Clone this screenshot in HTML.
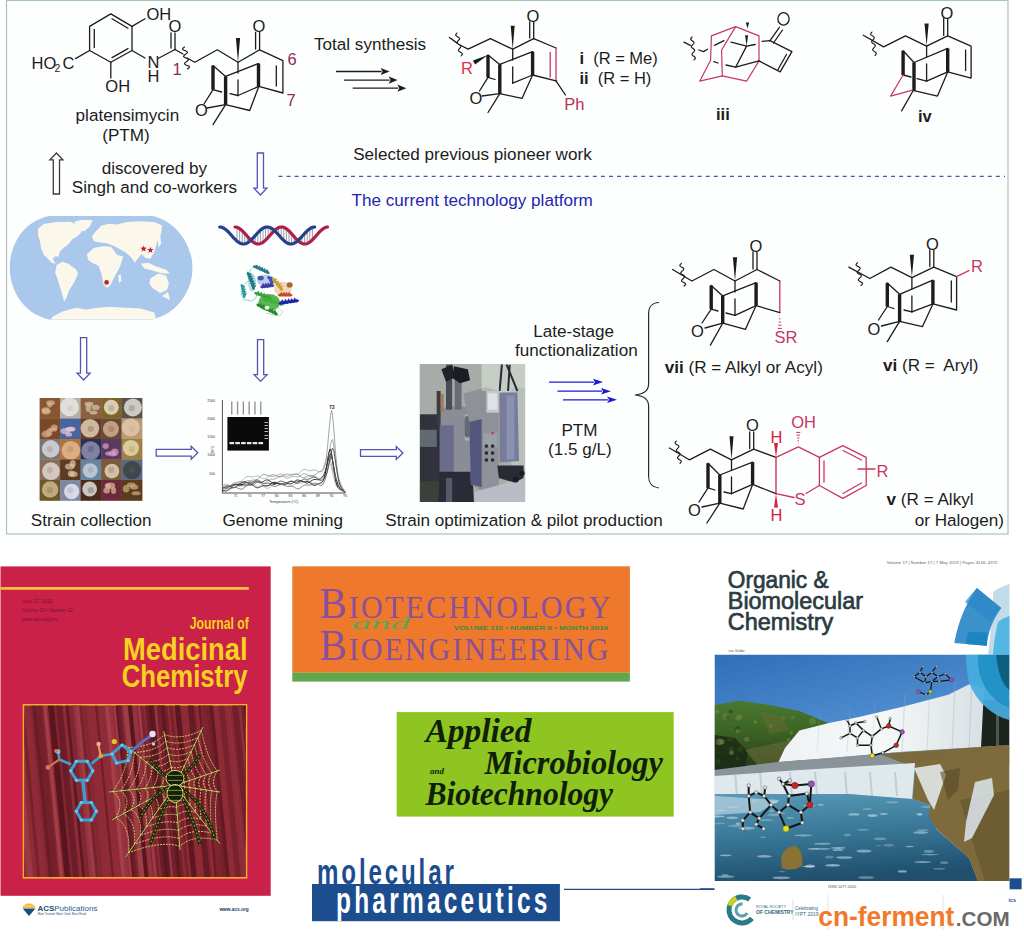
<!DOCTYPE html><html><head><meta charset="utf-8"><style>
html,body{margin:0;padding:0;background:#fff;}
body{width:1024px;height:941px;overflow:hidden;position:relative;}
svg{position:absolute;left:0;top:0;}
</style></head><body>
<svg width="1024" height="941" viewBox="0 0 1024 941">
<rect x="0" y="0" width="1024" height="941" fill="#ffffff"/>

<rect x="6.5" y="0.5" width="1001.5" height="533.5" fill="#fdfffe" stroke="#a9c4bb" stroke-width="1.2"/>
<path d="M110.8,13.9 L132.0,26.4 L132.0,50.5 L110.8,62.3 L89.6,50.5 L89.6,26.4 L110.8,13.9" fill="none" stroke="#1c1c1c" stroke-width="1.3" stroke-linejoin="round" stroke-linecap="round" />
<path d="M94.3,29.5 L94.3,47.5" fill="none" stroke="#1c1c1c" stroke-width="1.3" stroke-linejoin="round" stroke-linecap="round" />
<path d="M112.0,18.8 L128.0,28.2" fill="none" stroke="#1c1c1c" stroke-width="1.3" stroke-linejoin="round" stroke-linecap="round" />
<path d="M128.0,48.6 L112.0,57.6" fill="none" stroke="#1c1c1c" stroke-width="1.3" stroke-linejoin="round" stroke-linecap="round" />
<path d="M132.0,26.4 L145.0,18.8" fill="none" stroke="#1c1c1c" stroke-width="1.3" stroke-linejoin="round" stroke-linecap="round" />
<text x="146.5" y="20.2" font-family="'Liberation Sans', sans-serif" font-size="16.5" fill="#1c1c1c" text-anchor="start" font-weight="normal" >OH</text>
<path d="M75.5,58.6 L89.6,50.5" fill="none" stroke="#1c1c1c" stroke-width="1.3" stroke-linejoin="round" stroke-linecap="round" />
<text x="31.5" y="68.5" font-family="'Liberation Sans', sans-serif" font-size="16.5" fill="#1c1c1c" text-anchor="start" font-weight="normal" >HO</text>
<text x="54.5" y="72" font-family="'Liberation Sans', sans-serif" font-size="10.5" fill="#1c1c1c" text-anchor="start" font-weight="normal" >2</text>
<text x="62.5" y="68.5" font-family="'Liberation Sans', sans-serif" font-size="16.5" fill="#1c1c1c" text-anchor="start" font-weight="normal" >C</text>
<path d="M110.8,62.3 L110.8,78.0" fill="none" stroke="#1c1c1c" stroke-width="1.3" stroke-linejoin="round" stroke-linecap="round" />
<text x="105.3" y="92.3" font-family="'Liberation Sans', sans-serif" font-size="16.5" fill="#1c1c1c" text-anchor="start" font-weight="normal" >OH</text>
<path d="M132.0,50.5 L145.0,58.0" fill="none" stroke="#1c1c1c" stroke-width="1.3" stroke-linejoin="round" stroke-linecap="round" />
<text x="147.5" y="68" font-family="'Liberation Sans', sans-serif" font-size="16.5" fill="#1c1c1c" text-anchor="start" font-weight="normal" >N</text>
<text x="147.5" y="81.5" font-family="'Liberation Sans', sans-serif" font-size="16.5" fill="#1c1c1c" text-anchor="start" font-weight="normal" >H</text>
<path d="M158.0,58.5 L175.0,49.5" fill="none" stroke="#1c1c1c" stroke-width="1.3" stroke-linejoin="round" stroke-linecap="round" />
<path d="M175.0,49.5 L175.0,33.0" fill="none" stroke="#1c1c1c" stroke-width="1.3" stroke-linejoin="round" stroke-linecap="round" />
<path d="M171.0,48.0 L171.0,33.0" fill="none" stroke="#1c1c1c" stroke-width="1.3" stroke-linejoin="round" stroke-linecap="round" />
<text x="168.5" y="31.5" font-family="'Liberation Sans', sans-serif" font-size="16.5" fill="#1c1c1c" text-anchor="start" font-weight="normal" >O</text>
<path d="M175.0,49.5 L183.0,54.0" fill="none" stroke="#1c1c1c" stroke-width="1.3" stroke-linejoin="round" stroke-linecap="round" />
<text x="172.5" y="74.5" font-family="'Liberation Sans', sans-serif" font-size="16.5" fill="#8a2c5c" text-anchor="start" font-weight="normal" >1</text>
<path d="M184.5,47.0 L183.6,47.7 L182.9,48.3 L182.6,48.9 L182.7,49.5 L183.3,50.0 L184.3,50.4 L185.4,50.8 L186.4,51.2 L187.1,51.7 L187.4,52.2 L187.3,52.8 L186.7,53.4 L185.8,54.1 L184.9,54.8 L184.1,55.5 L183.6,56.1 L183.6,56.6 L184.1,57.1 L184.9,57.6 L186.0,58.0 L187.1,58.4 L187.9,58.9 L188.4,59.4 L188.4,59.9 L187.9,60.5 L187.1,61.2 L186.2,61.9 L185.3,62.6 L184.7,63.2 L184.6,63.8 L184.9,64.3 L185.6,64.8 L186.6,65.2 L187.7,65.6 L188.7,66.0 L189.3,66.5 L189.4,67.1 L189.1,67.7 L188.4,68.3 L187.5,69.0" fill="none" stroke="#1c1c1c" stroke-width="1.15" stroke-linejoin="round" stroke-linecap="round" />
<path d="M187.0,58.0 L194.8,62.3 L217.3,49.8 L238.0,62.3 L259.6,49.8 L282.9,60.6 L282.9,93.0 L258.8,86.4" fill="none" stroke="#1c1c1c" stroke-width="1.3" stroke-linejoin="round" stroke-linecap="round" />
<polygon points="238.0,62.3 240.1,38.0 235.9,38.0" fill="#1c1c1c"/>
<path d="M259.6,49.8 L259.6,32.5" fill="none" stroke="#1c1c1c" stroke-width="1.3" stroke-linejoin="round" stroke-linecap="round" />
<path d="M255.6,49.0 L255.6,32.5" fill="none" stroke="#1c1c1c" stroke-width="1.3" stroke-linejoin="round" stroke-linecap="round" />
<text x="252.6" y="32" font-family="'Liberation Sans', sans-serif" font-size="16.5" fill="#1c1c1c" text-anchor="start" font-weight="normal" >O</text>
<path d="M276.3,66.0 L276.3,86.0" fill="none" stroke="#1c1c1c" stroke-width="1.3" stroke-linejoin="round" stroke-linecap="round" />
<line x1="258.5" y1="63.5" x2="258.5" y2="86.5" stroke="#1c1c1c" stroke-width="3.4" stroke-linecap="butt"/>
<path d="M258.5,63.5 L225.6,76.4" fill="none" stroke="#1c1c1c" stroke-width="1.3" stroke-linejoin="round" stroke-linecap="round" />
<line x1="225.6" y1="76.4" x2="225.6" y2="104.6" stroke="#1c1c1c" stroke-width="3.4" stroke-linecap="butt"/>
<path d="M238.0,62.3 L238.0,73.0" fill="none" stroke="#1c1c1c" stroke-width="1.3" stroke-linejoin="round" stroke-linecap="round" />
<path d="M238.0,80.0 L238.0,95.5" fill="none" stroke="#1c1c1c" stroke-width="1.3" stroke-linejoin="round" stroke-linecap="round" />
<path d="M238.0,95.5 L258.8,86.4" fill="none" stroke="#1c1c1c" stroke-width="1.3" stroke-linejoin="round" stroke-linecap="round" />
<line x1="213.0" y1="65.6" x2="213.0" y2="89.7" stroke="#1c1c1c" stroke-width="3.4" stroke-linecap="butt"/>
<path d="M213.0,65.6 L225.6,76.4" fill="none" stroke="#1c1c1c" stroke-width="1.3" stroke-linejoin="round" stroke-linecap="round" />
<path d="M213.0,89.7 L221.5,92.0" fill="none" stroke="#1c1c1c" stroke-width="1.3" stroke-linejoin="round" stroke-linecap="round" />
<path d="M230.0,93.6 L238.0,95.5" fill="none" stroke="#1c1c1c" stroke-width="1.3" stroke-linejoin="round" stroke-linecap="round" />
<path d="M213.0,89.7 L204.0,104.0" fill="none" stroke="#1c1c1c" stroke-width="1.3" stroke-linejoin="round" stroke-linecap="round" />
<text x="195" y="116" font-family="'Liberation Sans', sans-serif" font-size="16.5" fill="#1c1c1c" text-anchor="start" font-weight="normal" >O</text>
<path d="M207.0,108.0 L225.6,104.6 L249.7,110.5 L258.8,86.4" fill="none" stroke="#1c1c1c" stroke-width="1.3" stroke-linejoin="round" stroke-linecap="round" />
<path d="M225.6,104.6 L213.0,124.6" fill="none" stroke="#1c1c1c" stroke-width="1.3" stroke-linejoin="round" stroke-linecap="round" />
<text x="287.5" y="64.5" font-family="'Liberation Sans', sans-serif" font-size="16.5" fill="#8a2c5c" text-anchor="start" font-weight="normal" >6</text>
<text x="286.5" y="106" font-family="'Liberation Sans', sans-serif" font-size="16.5" fill="#8a2c5c" text-anchor="start" font-weight="normal" >7</text>
<text x="75.6" y="121.3" font-family="'Liberation Sans', sans-serif" font-size="17.1" fill="#1c1c1c" text-anchor="start" font-weight="normal" >platensimycin</text>
<text x="102.2" y="140.7" font-family="'Liberation Sans', sans-serif" font-size="17.1" fill="#1c1c1c" text-anchor="start" font-weight="normal" >(PTM)</text>
<text x="314" y="49.5" font-family="'Liberation Sans', sans-serif" font-size="17.1" fill="#1c1c1c" text-anchor="start" font-weight="normal" >Total synthesis</text>
<line x1="336" y1="71.5" x2="381.6" y2="71.5" stroke="#1c1c1c" stroke-width="1.3"/>
<polygon points="389.6,71.5 380.6,67.9 382.6,71.5 380.6,75.1" fill="#1c1c1c"/>
<line x1="344" y1="80.1" x2="389.6" y2="80.1" stroke="#1c1c1c" stroke-width="1.3"/>
<polygon points="397.6,80.1 388.6,76.5 390.6,80.1 388.6,83.69999999999999" fill="#1c1c1c"/>
<line x1="352.7" y1="88.2" x2="398.3" y2="88.2" stroke="#1c1c1c" stroke-width="1.3"/>
<polygon points="406.3,88.2 397.3,84.60000000000001 399.3,88.2 397.3,91.8" fill="#1c1c1c"/>
<path d="M449.4,37.5 L457.6,43.4" fill="none" stroke="#1c1c1c" stroke-width="1.3" stroke-linejoin="round" stroke-linecap="round" />
<path d="M457.0,33.0 L456.4,33.7 L455.9,34.4 L455.7,35.0 L455.9,35.6 L456.4,36.1 L457.1,36.5 L457.9,37.0 L458.7,37.4 L459.3,37.9 L459.6,38.5 L459.5,39.1 L459.1,39.7 L458.5,40.4 L457.9,41.1 L457.4,41.8 L457.1,42.5 L457.1,43.0 L457.5,43.6 L458.2,44.0 L459.0,44.5 L459.8,45.0 L460.5,45.4 L460.9,46.0 L460.9,46.5 L460.6,47.2 L460.1,47.9 L459.5,48.6 L458.9,49.3 L458.5,49.9 L458.4,50.5 L458.7,51.1 L459.3,51.6 L460.1,52.0 L460.9,52.5 L461.6,52.9 L462.1,53.4 L462.3,54.0 L462.1,54.6 L461.6,55.3 L461.0,56.0" fill="none" stroke="#1c1c1c" stroke-width="1.15" stroke-linejoin="round" stroke-linecap="round" />
<path d="M460.0,45.0 L468.1,49.2 L490.4,38.7 L512.7,49.2 L533.7,38.7 L556.0,48.0" fill="none" stroke="#1c1c1c" stroke-width="1.3" stroke-linejoin="round" stroke-linecap="round" />
<polygon points="512.7,49.2 514.7,25.8 510.7,25.8" fill="#1c1c1c"/>
<path d="M533.7,38.7 L533.7,22.0" fill="none" stroke="#1c1c1c" stroke-width="1.3" stroke-linejoin="round" stroke-linecap="round" />
<path d="M529.7,38.0 L529.7,22.0" fill="none" stroke="#1c1c1c" stroke-width="1.3" stroke-linejoin="round" stroke-linecap="round" />
<text x="526.5" y="21.5" font-family="'Liberation Sans', sans-serif" font-size="16.5" fill="#1c1c1c" text-anchor="start" font-weight="normal" >O</text>
<path d="M556.0,48.0 L556.0,80.9" fill="none" stroke="#c8365e" stroke-width="1.3" stroke-linejoin="round" stroke-linecap="round" />
<path d="M550.2,52.5 L550.2,77.0" fill="none" stroke="#c8365e" stroke-width="1.3" stroke-linejoin="round" stroke-linecap="round" />
<path d="M556.0,80.9 L532.6,75.0" fill="none" stroke="#1c1c1c" stroke-width="1.3" stroke-linejoin="round" stroke-linecap="round" />
<line x1="532.6" y1="51.6" x2="532.6" y2="75.0" stroke="#1c1c1c" stroke-width="3.4" stroke-linecap="butt"/>
<path d="M532.6,51.6 L499.8,64.4" fill="none" stroke="#1c1c1c" stroke-width="1.3" stroke-linejoin="round" stroke-linecap="round" />
<line x1="499.8" y1="64.4" x2="499.8" y2="93.7" stroke="#1c1c1c" stroke-width="3.4" stroke-linecap="butt"/>
<path d="M512.7,49.2 L512.7,60.0" fill="none" stroke="#1c1c1c" stroke-width="1.3" stroke-linejoin="round" stroke-linecap="round" />
<path d="M512.7,67.0 L512.7,83.2" fill="none" stroke="#1c1c1c" stroke-width="1.3" stroke-linejoin="round" stroke-linecap="round" />
<path d="M512.7,83.2 L532.6,75.0" fill="none" stroke="#1c1c1c" stroke-width="1.3" stroke-linejoin="round" stroke-linecap="round" />
<line x1="488.0" y1="55.0" x2="488.0" y2="77.3" stroke="#1c1c1c" stroke-width="3.4" stroke-linecap="butt"/>
<path d="M488.0,55.0 L499.8,64.4" fill="none" stroke="#1c1c1c" stroke-width="1.3" stroke-linejoin="round" stroke-linecap="round" />
<polygon points="488.0,55.0 472.9,60.5 475.1,64.5" fill="#1c1c1c"/>
<text x="461" y="74" font-family="'Liberation Sans', sans-serif" font-size="16.5" fill="#e0304a" text-anchor="start" font-weight="normal" >R</text>
<path d="M488.0,77.3 L495.0,79.5" fill="none" stroke="#1c1c1c" stroke-width="1.3" stroke-linejoin="round" stroke-linecap="round" />
<path d="M488.0,77.3 L479.5,91.0" fill="none" stroke="#1c1c1c" stroke-width="1.3" stroke-linejoin="round" stroke-linecap="round" />
<text x="469.5" y="104" font-family="'Liberation Sans', sans-serif" font-size="16.5" fill="#1c1c1c" text-anchor="start" font-weight="normal" >O</text>
<path d="M482.0,96.0 L499.8,93.7 L522.0,98.4 L532.6,75.0" fill="none" stroke="#1c1c1c" stroke-width="1.3" stroke-linejoin="round" stroke-linecap="round" />
<path d="M499.8,93.7 L488.0,112.5" fill="none" stroke="#1c1c1c" stroke-width="1.3" stroke-linejoin="round" stroke-linecap="round" />
<path d="M556.0,80.9 L565.4,95.0" fill="none" stroke="#1c1c1c" stroke-width="1.3" stroke-linejoin="round" stroke-linecap="round" />
<text x="564.2" y="110" font-family="'Liberation Sans', sans-serif" font-size="16.5" fill="#b83058" text-anchor="start" font-weight="normal" >Ph</text>
<text x="579.4" y="64.4" font-family="'Liberation Sans', sans-serif" font-size="16.5" fill="#1c1c1c" text-anchor="start" font-weight="normal" xml:space="preserve"><tspan font-weight="bold">i</tspan>  (R = Me)</text>
<text x="579.4" y="84.4" font-family="'Liberation Sans', sans-serif" font-size="16.5" fill="#1c1c1c" text-anchor="start" font-weight="normal" xml:space="preserve"><tspan font-weight="bold">ii</tspan>  (R = H)</text>
<path d="M711.4,35.9 L735.6,26.6 L759.0,35.9 L759.0,60.9 L746.6,81.2 L722.3,75.8 L699.7,81.2 L710.6,60.2 L711.4,35.9" fill="none" stroke="#c8365e" stroke-width="1.2" stroke-linejoin="round" stroke-linecap="round" />
<path d="M735.6,26.6 L721.6,50.0 L722.3,75.8" fill="none" stroke="#c8365e" stroke-width="1.2" stroke-linejoin="round" stroke-linecap="round" />
<path d="M684.0,42.2 L690.3,45.3" fill="none" stroke="#1c1c1c" stroke-width="1.3" stroke-linejoin="round" stroke-linecap="round" />
<path d="M692.0,37.0 L691.4,37.6 L690.9,38.3 L690.7,38.9 L690.8,39.4 L691.2,40.0 L691.8,40.5 L692.6,41.0 L693.3,41.5 L693.8,42.1 L694.0,42.6 L693.9,43.2 L693.5,43.8 L692.9,44.5 L692.2,45.1 L691.7,45.7 L691.4,46.3 L691.4,46.9 L691.7,47.5 L692.3,48.0 L693.0,48.5 L693.7,49.0 L694.3,49.5 L694.6,50.1 L694.6,50.7 L694.3,51.3 L693.8,51.9 L693.1,52.5 L692.5,53.2 L692.1,53.8 L692.0,54.4 L692.2,54.9 L692.7,55.5 L693.4,56.0 L694.2,56.5 L694.8,57.0 L695.2,57.6 L695.3,58.1 L695.1,58.7 L694.6,59.4 L694.0,60.0" fill="none" stroke="#1c1c1c" stroke-width="1.15" stroke-linejoin="round" stroke-linecap="round" />
<path d="M698.9,50.0 L703.6,51.6 L707.5,49.2" fill="none" stroke="#1c1c1c" stroke-width="1.3" stroke-linejoin="round" stroke-linecap="round" />
<path d="M714.5,45.3 L723.9,40.6" fill="none" stroke="#1c1c1c" stroke-width="1.3" stroke-linejoin="round" stroke-linecap="round" />
<path d="M731.0,42.2 L746.6,46.1 L755.2,44.5" fill="none" stroke="#1c1c1c" stroke-width="1.3" stroke-linejoin="round" stroke-linecap="round" />
<polygon points="746.6,46.1 748.1,35.2 745.1,35.2" fill="#1c1c1c"/>
<polygon points="747.5,28.5 749.2,22.5 745.8,22.5" fill="#1c1c1c"/>
<path d="M746.6,46.1 L735.6,67.2" fill="none" stroke="#1c1c1c" stroke-width="1.3" stroke-linejoin="round" stroke-linecap="round" />
<path d="M713.8,61.7 L718.0,63.0" fill="none" stroke="#1c1c1c" stroke-width="1.3" stroke-linejoin="round" stroke-linecap="round" />
<path d="M726.0,65.0 L735.6,67.2 L759.0,60.9" fill="none" stroke="#1c1c1c" stroke-width="1.3" stroke-linejoin="round" stroke-linecap="round" />
<path d="M762.2,41.4 L770.0,40.6 L791.9,51.6 L780.2,71.9 L759.0,60.9" fill="none" stroke="#1c1c1c" stroke-width="1.3" stroke-linejoin="round" stroke-linecap="round" />
<path d="M770.0,40.6 L779.4,27.3" fill="none" stroke="#1c1c1c" stroke-width="1.3" stroke-linejoin="round" stroke-linecap="round" />
<path d="M773.5,43.0 L782.5,30.0" fill="none" stroke="#1c1c1c" stroke-width="1.3" stroke-linejoin="round" stroke-linecap="round" />
<ellipse cx="783.5" cy="18.9" rx="5.6" ry="6.2" fill="none" stroke="#1c1c1c" stroke-width="1.3"/>
<path d="M786.5,54.5 L778.0,69.5" fill="none" stroke="#1c1c1c" stroke-width="1.3" stroke-linejoin="round" stroke-linecap="round" />
<text x="716" y="119.5" font-family="'Liberation Sans', sans-serif" font-size="16.5" fill="#1c1c1c" text-anchor="start" font-weight="bold" >iii</text>
<path d="M863.3,35.2 L883.6,46.9 L905.5,35.9 L926.6,46.1 L947.7,35.9 L971.1,46.1 L971.1,78.1 L947.7,71.9" fill="none" stroke="#1c1c1c" stroke-width="1.3" stroke-linejoin="round" stroke-linecap="round" />
<path d="M872.0,32.0 L871.4,32.7 L870.9,33.3 L870.7,34.0 L870.8,34.5 L871.3,35.1 L872.0,35.6 L872.8,36.1 L873.5,36.6 L874.1,37.1 L874.3,37.7 L874.2,38.3 L873.8,38.9 L873.2,39.6 L872.6,40.3 L872.0,41.0 L871.7,41.6 L871.7,42.2 L872.1,42.7 L872.7,43.3 L873.5,43.8 L874.3,44.2 L874.9,44.8 L875.3,45.3 L875.3,45.9 L875.0,46.5 L874.4,47.2 L873.8,47.9 L873.2,48.6 L872.8,49.2 L872.7,49.8 L872.9,50.4 L873.5,50.9 L874.2,51.4 L875.0,51.9 L875.7,52.4 L876.2,53.0 L876.3,53.5 L876.1,54.2 L875.6,54.8 L875.0,55.5" fill="none" stroke="#1c1c1c" stroke-width="1.15" stroke-linejoin="round" stroke-linecap="round" />
<polygon points="926.6,46.1 928.7,23.4 924.5,23.4" fill="#1c1c1c"/>
<path d="M947.7,35.9 L947.7,18.5" fill="none" stroke="#1c1c1c" stroke-width="1.3" stroke-linejoin="round" stroke-linecap="round" />
<path d="M943.7,35.5 L943.7,18.5" fill="none" stroke="#1c1c1c" stroke-width="1.3" stroke-linejoin="round" stroke-linecap="round" />
<text x="940.5" y="18.5" font-family="'Liberation Sans', sans-serif" font-size="16.5" fill="#1c1c1c" text-anchor="start" font-weight="normal" >O</text>
<path d="M965.6,50.0 L965.6,70.5" fill="none" stroke="#1c1c1c" stroke-width="1.3" stroke-linejoin="round" stroke-linecap="round" />
<line x1="947.7" y1="48.4" x2="947.7" y2="71.9" stroke="#1c1c1c" stroke-width="3.4" stroke-linecap="butt"/>
<path d="M947.7,48.4 L914.0,62.5" fill="none" stroke="#1c1c1c" stroke-width="1.3" stroke-linejoin="round" stroke-linecap="round" />
<line x1="914.0" y1="62.5" x2="914.0" y2="90.6" stroke="#1c1c1c" stroke-width="3.4" stroke-linecap="butt"/>
<path d="M926.6,46.1 L926.6,57.0" fill="none" stroke="#1c1c1c" stroke-width="1.3" stroke-linejoin="round" stroke-linecap="round" />
<path d="M926.6,64.0 L926.6,81.2" fill="none" stroke="#1c1c1c" stroke-width="1.3" stroke-linejoin="round" stroke-linecap="round" />
<path d="M926.6,81.2 L947.7,71.9" fill="none" stroke="#1c1c1c" stroke-width="1.3" stroke-linejoin="round" stroke-linecap="round" />
<line x1="903.1" y1="50.8" x2="903.1" y2="75.0" stroke="#1c1c1c" stroke-width="3.4" stroke-linecap="butt"/>
<path d="M903.1,50.8 L914.0,62.5" fill="none" stroke="#1c1c1c" stroke-width="1.3" stroke-linejoin="round" stroke-linecap="round" />
<path d="M903.1,75.0 L911.0,77.0" fill="none" stroke="#1c1c1c" stroke-width="1.3" stroke-linejoin="round" stroke-linecap="round" />
<path d="M917.0,78.6 L926.6,81.2" fill="none" stroke="#1c1c1c" stroke-width="1.3" stroke-linejoin="round" stroke-linecap="round" />
<path d="M903.1,75.0 L890.6,96.1 L913.3,89.8" fill="none" stroke="#c8365e" stroke-width="1.2" stroke-linejoin="round" stroke-linecap="round" />
<path d="M914.0,90.6 L937.5,96.1 L947.7,71.9" fill="none" stroke="#1c1c1c" stroke-width="1.3" stroke-linejoin="round" stroke-linecap="round" />
<path d="M913.5,90.0 L901.6,110.9" fill="none" stroke="#1c1c1c" stroke-width="1.3" stroke-linejoin="round" stroke-linecap="round" />
<text x="918" y="121.9" font-family="'Liberation Sans', sans-serif" font-size="16.5" fill="#1c1c1c" text-anchor="start" font-weight="bold" >iv</text>
<text x="353.2" y="159.8" font-family="'Liberation Sans', sans-serif" font-size="17.1" fill="#1c1c1c" text-anchor="start" font-weight="normal" >Selected previous pioneer work</text>
<line x1="278.5" y1="176.4" x2="1005" y2="176.4" stroke="#5050a0" stroke-width="1.2" stroke-dasharray="4 4.06"/>
<text x="351.5" y="205.7" font-family="'Liberation Sans', sans-serif" font-size="17.1" fill="#2424b4" text-anchor="start" font-weight="normal" >The current technology platform</text>
<text x="101.7" y="173.7" font-family="'Liberation Sans', sans-serif" font-size="17.1" fill="#1c1c1c" text-anchor="start" font-weight="normal" >discovered by</text>
<text x="71.8" y="193.3" font-family="'Liberation Sans', sans-serif" font-size="17.1" fill="#1c1c1c" text-anchor="start" font-weight="normal" >Singh and co-workers</text>
<path d="M53.3,194.0 L53.3,159.8 L49.9,159.8 L56.4,153.0 L62.9,159.8 L59.5,159.8 L59.5,194.0 Z" fill="#fff" stroke="#3a3a3a" stroke-width="1.3" stroke-linejoin="miter"/>
<path d="M257.3,153.0 L257.3,188.2 L253.9,188.2 L260.4,195.0 L266.9,188.2 L263.5,188.2 L263.5,153.0 Z" fill="#fff" stroke="#5552b0" stroke-width="1.3" stroke-linejoin="miter"/>
<defs><clipPath id="mapclip"><path d="M48.8,215.9 L152.3,215.9 C180,222 193,250 192.4,267.6 C193,287 180,313 152.3,319.4 L48.8,319.4 C21,313 9.5,287 9.8,267.6 C9.5,248 21,222 48.8,215.9 Z"/></clipPath></defs>
<path d="M48.8,215.9 L152.3,215.9 C180,222 193,250 192.4,267.6 C193,287 180,313 152.3,319.4 L48.8,319.4 C21,313 9.5,287 9.8,267.6 C9.5,248 21,222 48.8,215.9 Z" fill="#a9c8ec"/>
<g clip-path="url(#mapclip)" fill="#fbf7ea">
<polygon points="38.1,228.6 43.9,224.1 56.6,222.1 70.3,221.7 75.2,223.7 78.1,228.6 82.0,231.5 77.1,236.4 72.3,239.3 68.4,244.2 63.5,248.1 59.6,252.0 58.6,256.9 55.7,255.9 52.7,258.8 55.7,263.7 51.8,262.7 47.9,258.8 43.9,254.9 41.0,248.1 40.0,241.2 38.1,235.4"/>
<polygon points="74.2,221.7 82.0,219.8 92.8,220.2 89.8,226.6 84.0,231.5 78.1,229.5"/>
<polygon points="56.6,265.1 62.5,261.8 68.4,263.7 76.2,269.6 78.1,273.5 74.2,282.3 69.3,290.1 66.4,297.9 64.1,301.4 62.1,294.0 58.6,282.3 55.1,272.5"/>
<polygon points="91.8,236.4 95.7,231.5 101.6,225.6 109.4,223.7 117.2,224.6 127.0,222.1 140.6,221.3 154.3,222.1 162.1,225.6 161.1,233.4 158.2,239.3 156.2,245.2 154.3,252.0 150.4,258.8 145.5,257.9 141.6,253.9 137.7,258.8 134.8,262.7 130.9,256.9 125.0,252.0 119.1,249.1 114.3,246.1 106.4,243.2 98.6,242.2 93.8,241.2"/>
<polygon points="86.9,253.9 93.8,248.1 103.5,246.1 111.3,247.1 117.2,254.9 123.4,256.5 120.1,266.6 115.2,275.4 110.4,285.2 107.0,288.1 103.5,284.2 101.6,274.5 98.6,265.7 91.8,262.7 87.9,259.8"/>
<polygon points="118.2,275.4 120.7,274.5 121.5,280.3 119.1,283.2"/>
<polygon points="140.6,263.7 148.4,262.7 156.2,266.6 166.0,269.6 169.9,273.5 162.1,273.5 152.3,270.5 144.5,268.6"/>
<polygon points="157.2,235.4 160.2,234.4 161.1,243.2 158.6,248.1"/>
<polygon points="150.4,278.4 158.2,273.5 166.0,275.4 168.9,283.2 167.0,290.1 160.2,293.0 152.3,288.1 149.4,283.2"/>
<polygon points="162,296 168,292 170,300"/>
<polygon points="52.7,316.4 62.5,311.6 76.2,307.7 85.9,309.6 97.7,307.7 109.4,306.7 125.0,307.7 140.6,308.6 154.3,312.5 156.2,319.4 50.8,319.4"/>
</g>
<circle cx="106.6" cy="282.4" r="2.3" fill="#c0202a"/>
<polygon points="143.6,245.4 144.4,247.6 146.8,247.7 145.0,249.2 145.6,251.6 143.6,250.2 141.6,251.6 142.2,249.2 140.4,247.7 142.8,247.6" fill="#b8202a"/>
<polygon points="150.4,246.8 151.2,249.0 153.6,249.1 151.8,250.6 152.4,253.0 150.4,251.6 148.4,253.0 149.0,250.6 147.2,249.1 149.6,249.0" fill="#b8202a"/>
<line x1="237.0" y1="241.1" x2="237.0" y2="227.3" stroke="#707080" stroke-width="0.7"/>
<line x1="239.6" y1="242.9" x2="239.6" y2="228.6" stroke="#707080" stroke-width="0.7"/>
<line x1="242.2" y1="243.9" x2="242.2" y2="230.7" stroke="#707080" stroke-width="0.7"/>
<line x1="244.8" y1="243.9" x2="244.8" y2="233.4" stroke="#707080" stroke-width="0.7"/>
<line x1="247.4" y1="242.9" x2="247.4" y2="236.4" stroke="#707080" stroke-width="0.7"/>
<line x1="250.0" y1="241.0" x2="250.0" y2="239.2" stroke="#707080" stroke-width="0.7"/>
<line x1="252.6" y1="238.5" x2="252.6" y2="241.6" stroke="#707080" stroke-width="0.7"/>
<line x1="255.2" y1="235.6" x2="255.2" y2="243.3" stroke="#707080" stroke-width="0.7"/>
<line x1="257.8" y1="232.8" x2="257.8" y2="244.0" stroke="#707080" stroke-width="0.7"/>
<line x1="260.4" y1="230.2" x2="260.4" y2="243.6" stroke="#707080" stroke-width="0.7"/>
<line x1="263.0" y1="228.3" x2="263.0" y2="242.3" stroke="#707080" stroke-width="0.7"/>
<line x1="265.6" y1="227.2" x2="265.6" y2="240.1" stroke="#707080" stroke-width="0.7"/>
<line x1="268.2" y1="227.1" x2="268.2" y2="237.4" stroke="#707080" stroke-width="0.7"/>
<line x1="270.8" y1="227.9" x2="270.8" y2="234.4" stroke="#707080" stroke-width="0.7"/>
<line x1="273.4" y1="229.7" x2="273.4" y2="231.6" stroke="#707080" stroke-width="0.7"/>
<line x1="276.0" y1="232.1" x2="276.0" y2="229.2" stroke="#707080" stroke-width="0.7"/>
<line x1="278.6" y1="235.0" x2="278.6" y2="227.6" stroke="#707080" stroke-width="0.7"/>
<line x1="281.2" y1="237.9" x2="281.2" y2="227.0" stroke="#707080" stroke-width="0.7"/>
<line x1="283.8" y1="240.5" x2="283.8" y2="227.4" stroke="#707080" stroke-width="0.7"/>
<line x1="286.4" y1="242.5" x2="286.4" y2="228.8" stroke="#707080" stroke-width="0.7"/>
<line x1="289.0" y1="243.7" x2="289.0" y2="231.0" stroke="#707080" stroke-width="0.7"/>
<line x1="291.6" y1="244.0" x2="291.6" y2="233.8" stroke="#707080" stroke-width="0.7"/>
<line x1="294.2" y1="243.2" x2="294.2" y2="236.7" stroke="#707080" stroke-width="0.7"/>
<line x1="296.8" y1="241.6" x2="296.8" y2="239.5" stroke="#707080" stroke-width="0.7"/>
<line x1="299.4" y1="239.2" x2="299.4" y2="241.9" stroke="#707080" stroke-width="0.7"/>
<line x1="302.0" y1="236.4" x2="302.0" y2="243.4" stroke="#707080" stroke-width="0.7"/>
<line x1="304.6" y1="233.5" x2="304.6" y2="244.0" stroke="#707080" stroke-width="0.7"/>
<line x1="307.2" y1="230.9" x2="307.2" y2="243.5" stroke="#707080" stroke-width="0.7"/>
<line x1="309.8" y1="228.7" x2="309.8" y2="242.1" stroke="#707080" stroke-width="0.7"/>
<line x1="312.4" y1="227.4" x2="312.4" y2="239.8" stroke="#707080" stroke-width="0.7"/>
<path d="M235.0,227.0 L235.8,227.0 L236.5,227.2 L237.3,227.4 L238.1,227.7 L238.9,228.1 L239.6,228.6 L240.4,229.2 L241.2,229.8 L241.9,230.5 L242.7,231.2 L243.5,232.0 L244.2,232.8 L245.0,233.7 L245.8,234.5 L246.6,235.4 L247.3,236.3 L248.1,237.2 L248.9,238.0 L249.6,238.9 L250.4,239.7 L251.2,240.4 L252.0,241.1 L252.7,241.7 L253.5,242.3 L254.3,242.8 L255.0,243.2 L255.8,243.5 L256.6,243.8 L257.4,243.9 L258.1,244.0 L258.9,244.0 L259.7,243.8 L260.4,243.6 L261.2,243.3 L262.0,242.9 L262.8,242.5 L263.5,241.9 L264.3,241.3 L265.1,240.6 L265.8,239.9 L266.6,239.1 L267.4,238.3 L268.1,237.5 L268.9,236.6 L269.7,235.7 L270.5,234.8 L271.2,234.0 L272.0,233.1 L272.8,232.3 L273.5,231.5 L274.3,230.7 L275.1,230.0 L275.9,229.4 L276.6,228.8 L277.4,228.3 L278.2,227.8 L278.9,227.5 L279.7,227.2 L280.5,227.1 L281.2,227.0 L282.0,227.0 L282.8,227.1 L283.6,227.3 L284.3,227.6 L285.1,228.0 L285.9,228.4 L286.6,229.0 L287.4,229.6 L288.2,230.2 L289.0,231.0 L289.7,231.7 L290.5,232.5 L291.3,233.4 L292.0,234.3 L292.8,235.1 L293.6,236.0 L294.4,236.9 L295.1,237.8 L295.9,238.6 L296.7,239.4 L297.4,240.2 L298.2,240.9 L299.0,241.5 L299.8,242.1 L300.5,242.6 L301.3,243.1 L302.1,243.4 L302.8,243.7 L303.6,243.9 L304.4,244.0 L305.1,244.0 L305.9,243.9 L306.7,243.7 L307.5,243.4 L308.2,243.1 L309.0,242.6 L309.8,242.1 L310.5,241.5 L311.3,240.9 L312.1,240.2 L312.9,239.4 L313.6,238.6 L314.4,237.7 L315.2,236.9 L315.9,236.0 L316.7,235.1 L317.5,234.2 L318.2,233.4 L319.0,232.5 L319.8,231.7 L320.6,230.9 L321.3,230.2 L322.1,229.6 L322.9,229.0 L323.6,228.4 L324.4,228.0 L325.2,227.6 L326.0,227.3 L326.7,227.1 L327.5,227.0" fill="none" stroke="#b01e4c" stroke-width="3.2" stroke-linejoin="round" stroke-linecap="round" />
<path d="M219.7,227.0 L220.5,227.0 L221.3,227.2 L222.1,227.4 L222.9,227.7 L223.7,228.1 L224.4,228.6 L225.2,229.2 L226.0,229.8 L226.8,230.5 L227.6,231.2 L228.4,232.0 L229.2,232.9 L230.0,233.7 L230.8,234.6 L231.6,235.5 L232.4,236.4 L233.1,237.3 L233.9,238.1 L234.7,238.9 L235.5,239.7 L236.3,240.5 L237.1,241.2 L237.9,241.8 L238.7,242.4 L239.5,242.8 L240.3,243.3 L241.1,243.6 L241.8,243.8 L242.6,244.0 L243.4,244.0 L244.2,244.0 L245.0,243.8 L245.8,243.6 L246.6,243.3 L247.4,242.9 L248.2,242.4 L249.0,241.8 L249.8,241.2 L250.5,240.5 L251.3,239.8 L252.1,239.0 L252.9,238.2 L253.7,237.3 L254.5,236.4 L255.3,235.5 L256.1,234.7 L256.9,233.8 L257.7,232.9 L258.5,232.1 L259.2,231.3 L260.0,230.5 L260.8,229.8 L261.6,229.2 L262.4,228.7 L263.2,228.2 L264.0,227.8 L264.8,227.4 L265.6,227.2 L266.4,227.1 L267.1,227.0 L267.9,227.0 L268.7,227.2 L269.5,227.4 L270.3,227.7 L271.1,228.1 L271.9,228.6 L272.7,229.1 L273.5,229.8 L274.3,230.5 L275.1,231.2 L275.8,232.0 L276.6,232.8 L277.4,233.7 L278.2,234.5 L279.0,235.4 L279.8,236.3 L280.6,237.2 L281.4,238.1 L282.2,238.9 L283.0,239.7 L283.8,240.4 L284.5,241.1 L285.3,241.8 L286.1,242.3 L286.9,242.8 L287.7,243.2 L288.5,243.6 L289.3,243.8 L290.1,243.9 L290.9,244.0 L291.7,244.0 L292.5,243.8 L293.2,243.6 L294.0,243.3 L294.8,242.9 L295.6,242.4 L296.4,241.9 L297.2,241.3 L298.0,240.6 L298.8,239.8 L299.6,239.0 L300.4,238.2 L301.2,237.4 L301.9,236.5 L302.7,235.6 L303.5,234.7 L304.3,233.8 L305.1,233.0 L305.9,232.1 L306.7,231.3 L307.5,230.6 L308.3,229.9 L309.1,229.3 L309.9,228.7 L310.6,228.2 L311.4,227.8 L312.2,227.5 L313.0,227.2 L313.8,227.1 L314.6,227.0" fill="none" stroke="#26408a" stroke-width="3.2" stroke-linejoin="round" stroke-linecap="round" />
<defs><filter id="soft2" x="-10%" y="-10%" width="120%" height="120%"><feGaussianBlur stdDeviation="0.45"/></filter></defs>
<g filter="url(#soft2)">
<ellipse cx="252.1" cy="282.6" rx="4" ry="9" fill="#6ab8b8" opacity="0.45"/>
<ellipse cx="265.8" cy="280.5" rx="9" ry="6" fill="#6a7ad0" opacity="0.4"/>
<ellipse cx="282.8" cy="288.7" rx="9" ry="7" fill="#d89850" opacity="0.4"/>
<polyline points="254.1,266.2 250.0,270.3 248.7,280.5 243.2,286.0 241.2,294.2 243.9,299.6 251.4,301.0 255.5,298.3 257.6,292.8" fill="none" stroke="#8fd0d0" stroke-width="1"/>
<polyline points="263.7,298.3 270.5,301.0 282.8,311.9 279.4,316.0 265.8,313.3" fill="none" stroke="#b0e0b0" stroke-width="1"/>
<path d="M248.7,272.3 Q247.1,274.2 249.5,274.6 Q247.9,276.6 250.4,277.0 Q248.8,278.9 251.3,279.3 Q249.7,281.3 252.2,281.7 Q250.6,283.6 253.1,284.0 Q251.4,286.0 253.9,286.4 Q252.3,288.3 254.8,288.7 " fill="none" stroke="#237a8a" stroke-width="2.8"/>
<path d="M254.1,265.5 Q254.6,267.7 256.6,266.6 Q257.2,268.8 259.2,267.7 Q259.7,270.0 261.7,268.9 Q262.2,271.1 264.2,270.0 Q264.7,272.2 266.7,271.2 Q267.2,273.4 269.2,272.3 " fill="none" stroke="#2a7a8a" stroke-width="2.8"/>
<path d="M242.5,284.6 Q241.0,286.2 243.1,287.1 Q241.6,288.7 243.6,289.5 Q242.1,291.1 244.2,292.0 Q242.7,293.6 244.7,294.4 Q243.2,296.1 245.3,296.9 " fill="none" stroke="#2a9a9a" stroke-width="2.8"/>
<ellipse cx="260.6" cy="278.1" rx="3.2" ry="2.4" fill="#3a5ab0"/>
<path d="M269.2,276.4 Q268.0,278.7 270.5,278.5 Q269.4,280.7 271.9,280.5 Q270.8,282.8 273.3,282.6 " fill="none" stroke="#3a4ac0" stroke-width="2.8"/>
<path d="M261.0,286.0 Q262.5,288.2 263.4,285.7 Q264.9,287.9 265.9,285.4 Q267.4,287.7 268.4,285.2 Q269.9,287.4 270.8,284.9 Q272.3,287.1 273.3,284.6 " fill="none" stroke="#3a3aa8" stroke-width="2.8"/>
<path d="M273.3,277.8 Q272.4,280.5 275.2,280.1 Q274.3,282.8 277.1,282.4 Q276.2,285.1 279.0,284.7 Q278.1,287.4 280.9,287.1 Q280.0,289.8 282.8,289.4 " fill="none" stroke="#c8a030" stroke-width="2.8"/>
<ellipse cx="289.7" cy="284.9" rx="3" ry="2.6" fill="#a06a30"/>
<path d="M278.7,294.2 Q280.0,296.2 281.3,294.2 Q282.6,296.2 283.9,294.2 Q285.2,296.2 286.5,294.2 Q287.8,296.2 289.1,294.2 Q290.4,296.2 291.7,294.2 " fill="none" stroke="#c84a28" stroke-width="2.8"/>
<ellipse cx="269.2" cy="302.4" rx="11" ry="8.5" fill="#46b040" opacity="0.9"/>
<path d="M255.5,292.1 Q256.0,294.9 258.2,293.2 Q258.8,295.9 261.0,294.2 Q261.5,296.9 263.7,295.2 Q264.2,298.0 266.4,296.2 Q267.0,299.0 269.2,297.3 Q269.7,300.0 271.9,298.3 " fill="none" stroke="#3aa040" stroke-width="2.8"/>
<path d="M257.6,303.7 Q257.9,306.6 260.4,305.1 Q260.8,308.0 263.2,306.5 Q263.6,309.3 266.1,307.8 Q266.4,310.7 268.9,309.2 Q269.3,312.1 271.7,310.6 Q272.1,313.4 274.5,311.9 Q274.9,314.8 277.4,313.3 " fill="none" stroke="#2a8a2a" stroke-width="2.8"/>
<path d="M263.7,298.3 Q264.6,301.0 266.9,299.2 Q267.8,302.0 270.1,300.1 Q271.0,302.9 273.3,301.0 Q274.2,303.8 276.5,301.9 Q277.4,304.7 279.7,302.8 Q280.6,305.6 282.8,303.7 " fill="none" stroke="#4ab040" stroke-width="2.8"/>
<ellipse cx="267.1" cy="307.8" rx="2.5" ry="2" fill="#e8f8e8"/>
<path d="M279.4,302.4 Q281.3,304.7 282.5,301.9 Q284.4,304.3 285.6,301.5 Q287.5,303.8 288.7,301.0 Q290.6,303.4 291.7,300.6 Q293.7,302.9 294.8,300.1 Q296.7,302.4 297.9,299.6 " fill="none" stroke="#1a28a0" stroke-width="2.8"/>
</g>
<path d="M80.5,337.7 L80.5,373.2 L77.1,373.2 L83.6,380.0 L90.1,373.2 L86.7,373.2 L86.7,337.7 Z" fill="#fff" stroke="#5552b0" stroke-width="1.3" stroke-linejoin="miter"/>
<path d="M257.5,339.6 L257.5,374.6 L254.1,374.6 L260.6,381.4 L267.1,374.6 L263.7,374.6 L263.7,339.6 Z" fill="#fff" stroke="#5552b0" stroke-width="1.3" stroke-linejoin="miter"/>
<path d="M156.2,449.4 L191.2,449.4 L191.2,446.3 L197.8,452.8 L191.2,459.3 L191.2,456.2 L156.2,456.2 Z" fill="#fff" stroke="#5552b0" stroke-width="1.3" stroke-linejoin="miter"/>
<path d="M360.5,449.6 L396.3,449.6 L396.3,446.5 L402.9,453.0 L396.3,459.5 L396.3,456.4 L360.5,456.4 Z" fill="#fff" stroke="#5552b0" stroke-width="1.3" stroke-linejoin="miter"/>
<g filter="url(#soft)">
<rect x="39.6" y="398.0" width="20.8" height="20.8" fill="#8a5630"/>
<ellipse cx="45.6" cy="410.3" rx="4.1" ry="3.0" fill="#d8b898" opacity="0.7"/>
<ellipse cx="46.2" cy="411.5" rx="4.5" ry="3.0" fill="#d8b898" opacity="0.7"/>
<ellipse cx="49.7" cy="404.8" rx="2.5" ry="2.7" fill="#d8b898" opacity="0.7"/>
<ellipse cx="50.6" cy="402.8" rx="4.5" ry="2.5" fill="#d8b898" opacity="0.7"/>
<rect x="60.1" y="398.0" width="20.8" height="20.8" fill="#b8b0a0"/>
<circle cx="69.5" cy="406.9" r="9.4" fill="#e8e8e8" opacity="0.85"/>
<circle cx="70.3" cy="408.2" r="3.1" fill="#b8b0a0" opacity="0.25"/>
<rect x="80.6" y="398.0" width="20.8" height="20.8" fill="#8a6040"/>
<ellipse cx="93.5" cy="412.5" rx="4.0" ry="2.1" fill="#d8c8b0" opacity="0.7"/>
<ellipse cx="88.5" cy="408.0" rx="2.8" ry="3.9" fill="#d8c8b0" opacity="0.7"/>
<ellipse cx="89.0" cy="403.9" rx="4.5" ry="2.2" fill="#d8c8b0" opacity="0.7"/>
<ellipse cx="95.7" cy="407.4" rx="3.9" ry="2.7" fill="#d8c8b0" opacity="0.7"/>
<rect x="101.1" y="398.0" width="20.8" height="20.8" fill="#806428"/>
<circle cx="111.3" cy="407.3" r="7.5" fill="#e8e0d0" opacity="0.85"/>
<circle cx="111.3" cy="408.2" r="3.1" fill="#806428" opacity="0.25"/>
<rect x="121.6" y="398.0" width="20.8" height="20.8" fill="#5a524a"/>
<circle cx="132.9" cy="407.5" r="9.0" fill="#e0e0d8" opacity="0.85"/>
<circle cx="131.8" cy="408.2" r="3.1" fill="#5a524a" opacity="0.25"/>
<rect x="39.6" y="418.5" width="20.8" height="20.8" fill="#7a4a2a"/>
<ellipse cx="46.1" cy="434.1" rx="4.7" ry="3.5" fill="#d8b090" opacity="0.7"/>
<ellipse cx="52.8" cy="429.5" rx="4.3" ry="2.2" fill="#d8b090" opacity="0.7"/>
<ellipse cx="49.3" cy="432.4" rx="3.0" ry="3.8" fill="#d8b090" opacity="0.7"/>
<ellipse cx="54.3" cy="427.4" rx="3.4" ry="2.9" fill="#d8b090" opacity="0.7"/>
<rect x="60.1" y="418.5" width="20.8" height="20.8" fill="#4a64a0"/>
<ellipse cx="68.7" cy="434.4" rx="3.5" ry="2.1" fill="#e8c8d8" opacity="0.7"/>
<ellipse cx="65.2" cy="431.1" rx="5.0" ry="3.0" fill="#e8c8d8" opacity="0.7"/>
<ellipse cx="70.0" cy="429.1" rx="4.4" ry="2.4" fill="#e8c8d8" opacity="0.7"/>
<ellipse cx="71.4" cy="429.2" rx="4.1" ry="2.4" fill="#e8c8d8" opacity="0.7"/>
<rect x="80.6" y="418.5" width="20.8" height="20.8" fill="#6a3a28"/>
<circle cx="89.9" cy="428.3" r="9.3" fill="#e0d0b0" opacity="0.85"/>
<circle cx="90.8" cy="428.8" r="3.1" fill="#6a3a28" opacity="0.25"/>
<rect x="101.1" y="418.5" width="20.8" height="20.8" fill="#6a4838"/>
<circle cx="110.9" cy="429.0" r="8.0" fill="#d0b090" opacity="0.85"/>
<circle cx="111.3" cy="428.8" r="3.1" fill="#6a4838" opacity="0.25"/>
<rect x="121.6" y="418.5" width="20.8" height="20.8" fill="#b89a78"/>
<circle cx="130.7" cy="427.4" r="9.0" fill="#e0c8a8" opacity="0.85"/>
<circle cx="131.8" cy="428.8" r="3.1" fill="#b89a78" opacity="0.25"/>
<rect x="39.6" y="439.0" width="20.8" height="20.8" fill="#7a7470"/>
<circle cx="50.7" cy="448.9" r="8.8" fill="#d8d8e0" opacity="0.85"/>
<circle cx="49.9" cy="449.2" r="3.1" fill="#7a7470" opacity="0.25"/>
<rect x="60.1" y="439.0" width="20.8" height="20.8" fill="#b07040"/>
<circle cx="70.9" cy="450.4" r="9.3" fill="#e0b890" opacity="0.85"/>
<circle cx="70.3" cy="449.2" r="3.1" fill="#b07040" opacity="0.25"/>
<rect x="80.6" y="439.0" width="20.8" height="20.8" fill="#283050"/>
<circle cx="90.6" cy="450.7" r="9.4" fill="#9090b0" opacity="0.85"/>
<circle cx="90.8" cy="449.2" r="3.1" fill="#283050" opacity="0.25"/>
<rect x="101.1" y="439.0" width="20.8" height="20.8" fill="#5a3a60"/>
<ellipse cx="112.2" cy="453.6" rx="3.7" ry="2.8" fill="#e0a0c8" opacity="0.7"/>
<ellipse cx="108.1" cy="453.5" rx="2.9" ry="2.1" fill="#e0a0c8" opacity="0.7"/>
<ellipse cx="114.8" cy="452.3" rx="3.7" ry="3.7" fill="#e0a0c8" opacity="0.7"/>
<ellipse cx="105.7" cy="446.1" rx="3.2" ry="2.8" fill="#e0a0c8" opacity="0.7"/>
<rect x="121.6" y="439.0" width="20.8" height="20.8" fill="#a08040"/>
<circle cx="130.9" cy="448.0" r="8.1" fill="#e0d8b0" opacity="0.85"/>
<circle cx="131.8" cy="449.2" r="3.1" fill="#a08040" opacity="0.25"/>
<rect x="39.6" y="459.5" width="20.8" height="20.8" fill="#8a6a58"/>
<circle cx="51.0" cy="471.2" r="8.9" fill="#e0d8d0" opacity="0.85"/>
<circle cx="49.9" cy="469.8" r="3.1" fill="#8a6a58" opacity="0.25"/>
<rect x="60.1" y="459.5" width="20.8" height="20.8" fill="#5a3a28"/>
<ellipse cx="69.8" cy="466.5" rx="4.9" ry="3.1" fill="#e0c8a0" opacity="0.7"/>
<ellipse cx="72.8" cy="463.8" rx="3.0" ry="3.7" fill="#e0c8a0" opacity="0.7"/>
<ellipse cx="73.6" cy="474.1" rx="4.0" ry="2.9" fill="#e0c8a0" opacity="0.7"/>
<ellipse cx="71.1" cy="473.7" rx="3.3" ry="3.1" fill="#e0c8a0" opacity="0.7"/>
<rect x="80.6" y="459.5" width="20.8" height="20.8" fill="#6a84a0"/>
<circle cx="90.2" cy="470.6" r="7.4" fill="#c8d0d8" opacity="0.85"/>
<circle cx="90.8" cy="469.8" r="3.1" fill="#6a84a0" opacity="0.25"/>
<rect x="101.1" y="459.5" width="20.8" height="20.8" fill="#7a5a38"/>
<circle cx="111.9" cy="471.1" r="7.4" fill="#e0d0c0" opacity="0.85"/>
<circle cx="111.3" cy="469.8" r="3.1" fill="#7a5a38" opacity="0.25"/>
<rect x="121.6" y="459.5" width="20.8" height="20.8" fill="#5a6a80"/>
<circle cx="132.1" cy="470.2" r="9.1" fill="#404040" opacity="0.85"/>
<circle cx="131.8" cy="469.8" r="3.1" fill="#5a6a80" opacity="0.25"/>
<rect x="39.6" y="480.0" width="20.8" height="20.8" fill="#6a5a2a"/>
<circle cx="50.1" cy="489.5" r="8.2" fill="#d0b890" opacity="0.85"/>
<circle cx="49.9" cy="490.2" r="3.1" fill="#6a5a2a" opacity="0.25"/>
<rect x="60.1" y="480.0" width="20.8" height="20.8" fill="#8088a0"/>
<circle cx="71.7" cy="491.5" r="7.7" fill="#e8e8f0" opacity="0.85"/>
<circle cx="70.3" cy="490.2" r="3.1" fill="#8088a0" opacity="0.25"/>
<rect x="80.6" y="480.0" width="20.8" height="20.8" fill="#4a2a1a"/>
<circle cx="89.6" cy="489.0" r="7.4" fill="#e0e0e0" opacity="0.85"/>
<circle cx="90.8" cy="490.2" r="3.1" fill="#4a2a1a" opacity="0.25"/>
<rect x="101.1" y="480.0" width="20.8" height="20.8" fill="#6a2a3a"/>
<ellipse cx="110.5" cy="485.7" rx="4.7" ry="3.3" fill="#e0b8a0" opacity="0.7"/>
<ellipse cx="106.6" cy="490.5" rx="3.3" ry="3.0" fill="#e0b8a0" opacity="0.7"/>
<ellipse cx="107.7" cy="486.0" rx="3.0" ry="2.8" fill="#e0b8a0" opacity="0.7"/>
<ellipse cx="113.6" cy="490.6" rx="2.6" ry="3.4" fill="#e0b8a0" opacity="0.7"/>
<rect x="121.6" y="480.0" width="20.8" height="20.8" fill="#5a3a1a"/>
<ellipse cx="136.1" cy="493.3" rx="4.5" ry="2.0" fill="#d0b080" opacity="0.7"/>
<ellipse cx="131.2" cy="484.8" rx="4.4" ry="2.4" fill="#d0b080" opacity="0.7"/>
<ellipse cx="134.1" cy="487.0" rx="4.2" ry="2.6" fill="#d0b080" opacity="0.7"/>
<ellipse cx="126.1" cy="488.7" rx="3.3" ry="3.8" fill="#d0b080" opacity="0.7"/>
</g>
<text x="30.8" y="526" font-family="'Liberation Sans', sans-serif" font-size="17.1" fill="#1c1c1c" text-anchor="start" font-weight="normal" >Strain collection</text>
<line x1="222.4" y1="400" x2="222.4" y2="493" stroke="#222" stroke-width="0.8"/>
<line x1="222.4" y1="493" x2="345.2" y2="493" stroke="#222" stroke-width="0.8"/>
<text x="215" y="401.5" font-family="'Liberation Sans', sans-serif" font-size="3.5" fill="#333" text-anchor="end" font-weight="normal" >2500</text>
<text x="215" y="419.8" font-family="'Liberation Sans', sans-serif" font-size="3.5" fill="#333" text-anchor="end" font-weight="normal" >2000</text>
<text x="215" y="438.1" font-family="'Liberation Sans', sans-serif" font-size="3.5" fill="#333" text-anchor="end" font-weight="normal" >1500</text>
<text x="215" y="456.4" font-family="'Liberation Sans', sans-serif" font-size="3.5" fill="#333" text-anchor="end" font-weight="normal" >1000</text>
<text x="215" y="474.7" font-family="'Liberation Sans', sans-serif" font-size="3.5" fill="#333" text-anchor="end" font-weight="normal" >500</text>
<text x="235.7" y="497" font-family="'Liberation Sans', sans-serif" font-size="3.5" fill="#333" text-anchor="middle" font-weight="normal" >71</text>
<text x="249.39999999999998" y="497" font-family="'Liberation Sans', sans-serif" font-size="3.5" fill="#333" text-anchor="middle" font-weight="normal" >74</text>
<text x="263.09999999999997" y="497" font-family="'Liberation Sans', sans-serif" font-size="3.5" fill="#333" text-anchor="middle" font-weight="normal" >77</text>
<text x="276.79999999999995" y="497" font-family="'Liberation Sans', sans-serif" font-size="3.5" fill="#333" text-anchor="middle" font-weight="normal" >80</text>
<text x="290.5" y="497" font-family="'Liberation Sans', sans-serif" font-size="3.5" fill="#333" text-anchor="middle" font-weight="normal" >83</text>
<text x="304.2" y="497" font-family="'Liberation Sans', sans-serif" font-size="3.5" fill="#333" text-anchor="middle" font-weight="normal" >86</text>
<text x="317.9" y="497" font-family="'Liberation Sans', sans-serif" font-size="3.5" fill="#333" text-anchor="middle" font-weight="normal" >89</text>
<text x="331.59999999999997" y="497" font-family="'Liberation Sans', sans-serif" font-size="3.5" fill="#333" text-anchor="middle" font-weight="normal" >92</text>
<text x="345.29999999999995" y="497" font-family="'Liberation Sans', sans-serif" font-size="3.5" fill="#333" text-anchor="middle" font-weight="normal" >95</text>
<text x="283.8" y="502.5" font-family="'Liberation Sans', sans-serif" font-size="3.8" fill="#333" text-anchor="middle" font-weight="normal" >Temperature (°C)</text>
<text x="209" y="452" font-family="'Liberation Sans', sans-serif" font-size="3.5" fill="#333" text-anchor="start" font-weight="normal" transform="rotate(-90 212 450)">RFU</text>
<text x="332" y="409" font-family="'Liberation Sans', sans-serif" font-size="4.5" fill="#222" text-anchor="middle" font-weight="bold" >T3</text>
<path d="M222.5,491.6 L223.5,491.3 L224.6,490.6 L225.6,489.7 L226.6,488.7 L227.6,487.8 L228.7,487.1 L229.7,486.6 L230.7,486.4 L231.8,486.2 L232.8,486.1 L233.8,485.7 L234.9,485.2 L235.9,484.4 L236.9,483.5 L237.9,482.7 L239.0,482.0 L240.0,481.6 L241.0,481.6 L242.1,481.9 L243.1,482.3 L244.1,482.7 L245.1,483.0 L246.2,482.9 L247.2,482.6 L248.2,482.1 L249.3,481.4 L250.3,480.8 L251.3,480.3 L252.4,480.1 L253.4,480.0 L254.4,480.0 L255.4,479.9 L256.5,479.7 L257.5,479.2 L258.5,478.3 L259.6,477.3 L260.6,476.3 L261.6,475.4 L262.6,474.7 L263.7,474.4 L264.7,474.5 L265.7,474.8 L266.8,475.1 L267.8,475.5 L268.8,475.6 L269.9,475.5 L270.9,475.3 L271.9,474.9 L272.9,474.7 L274.0,474.7 L275.0,475.0 L276.0,475.4 L277.1,476.0 L278.1,476.6 L279.1,477.0 L280.1,477.0 L281.2,476.7 L282.2,476.2 L283.2,475.5 L284.3,474.8 L285.3,474.3 L286.3,474.1 L287.4,474.1 L288.4,474.4 L289.4,474.7 L290.4,475.0 L291.5,475.1 L292.5,474.9 L293.5,474.6 L294.6,474.3 L295.6,474.1 L296.6,474.1 L297.6,474.4 L298.7,474.9 L299.7,475.7 L300.7,476.5 L301.8,477.2 L302.8,477.6 L303.8,477.6 L304.9,477.3 L305.9,476.8 L306.9,476.3 L307.9,475.8 L309.0,475.5 L310.0,475.4 L311.0,475.5 L312.1,475.6 L313.1,475.6 L314.1,475.3 L315.1,474.8 L316.2,474.0 L317.2,473.2 L318.2,472.3 L319.3,471.7 L320.3,471.4 L321.3,471.2 L322.4,470.9 L323.4,470.1 L324.4,467.9 L325.4,463.7 L326.5,456.9 L327.5,447.4 L328.5,436.1 L329.6,424.6 L330.6,415.3 L331.6,410.4 L332.6,415.3 L333.7,427.2 L334.7,441.1 L335.7,454.4 L336.8,465.3 L337.8,473.2 L338.8,478.6 L339.9,482.0 L340.9,484.5 L341.9,486.5 L342.9,488.3 L344.0,490.2 L345.0,492.0" fill="none" stroke="#666" stroke-width="0.6" stroke-linejoin="round" stroke-linecap="round" />
<path d="M222.5,485.8 L223.5,485.0 L224.6,484.5 L225.6,484.4 L226.6,484.7 L227.6,485.0 L228.7,485.4 L229.7,485.5 L230.7,485.5 L231.8,485.2 L232.8,484.7 L233.8,484.3 L234.9,484.0 L235.9,483.9 L236.9,484.0 L237.9,484.2 L239.0,484.5 L240.0,484.7 L241.0,484.6 L242.1,484.2 L243.1,483.5 L244.1,482.7 L245.1,481.8 L246.2,481.1 L247.2,480.7 L248.2,480.7 L249.3,480.9 L250.3,481.2 L251.3,481.6 L252.4,481.9 L253.4,481.9 L254.4,481.7 L255.4,481.4 L256.5,481.1 L257.5,481.0 L258.5,481.1 L259.6,481.4 L260.6,482.0 L261.6,482.6 L262.6,483.1 L263.7,483.3 L264.7,483.2 L265.7,482.7 L266.8,481.9 L267.8,481.1 L268.8,480.3 L269.9,479.7 L270.9,479.3 L271.9,479.2 L272.9,479.2 L274.0,479.1 L275.0,479.0 L276.0,478.6 L277.1,478.0 L278.1,477.3 L279.1,476.6 L280.1,476.1 L281.2,475.9 L282.2,476.0 L283.2,476.4 L284.3,477.0 L285.3,477.6 L286.3,478.1 L287.4,478.3 L288.4,478.1 L289.4,477.7 L290.4,477.2 L291.5,476.8 L292.5,476.5 L293.5,476.4 L294.6,476.5 L295.6,476.7 L296.6,476.9 L297.6,476.9 L298.7,476.6 L299.7,476.1 L300.7,475.4 L301.8,474.7 L302.8,474.1 L303.8,473.7 L304.9,473.8 L305.9,474.1 L306.9,474.7 L307.9,475.4 L309.0,476.0 L310.0,476.5 L311.0,476.7 L312.1,476.7 L313.1,476.6 L314.1,476.5 L315.1,476.6 L316.2,477.0 L317.2,477.5 L318.2,478.2 L319.3,478.8 L320.3,479.1 L321.3,479.1 L322.4,478.6 L323.4,477.4 L324.4,475.5 L325.4,472.6 L326.5,468.6 L327.5,463.3 L328.5,457.0 L329.6,450.2 L330.6,444.2 L331.6,440.1 L332.6,439.6 L333.7,445.7 L334.7,453.8 L335.7,462.2 L336.8,469.8 L337.8,476.0 L338.8,480.6 L339.9,483.9 L340.9,486.3 L341.9,488.2 L342.9,489.6 L344.0,490.8 L345.0,492.0" fill="none" stroke="#777" stroke-width="0.6" stroke-linejoin="round" stroke-linecap="round" />
<path d="M222.5,487.6 L223.5,487.5 L224.6,487.2 L225.6,486.7 L226.6,486.3 L227.6,486.1 L228.7,486.1 L229.7,486.4 L230.7,486.8 L231.8,487.3 L232.8,487.6 L233.8,487.7 L234.9,487.5 L235.9,486.9 L236.9,486.1 L237.9,485.4 L239.0,484.7 L240.0,484.3 L241.0,484.2 L242.1,484.4 L243.1,484.7 L244.1,485.0 L245.1,485.1 L246.2,485.1 L247.2,484.8 L248.2,484.5 L249.3,484.2 L250.3,484.1 L251.3,484.3 L252.4,484.8 L253.4,485.5 L254.4,486.4 L255.4,487.1 L256.5,487.6 L257.5,487.8 L258.5,487.6 L259.6,487.2 L260.6,486.7 L261.6,486.2 L262.6,485.9 L263.7,485.7 L264.7,485.8 L265.7,485.9 L266.8,486.0 L267.8,485.8 L268.8,485.5 L269.9,484.8 L270.9,484.0 L271.9,483.2 L272.9,482.6 L274.0,482.3 L275.0,482.3 L276.0,482.6 L277.1,483.2 L278.1,483.7 L279.1,484.1 L280.1,484.3 L281.2,484.2 L282.2,483.9 L283.2,483.5 L284.3,483.2 L285.3,483.0 L286.3,483.1 L287.4,483.3 L288.4,483.6 L289.4,483.9 L290.4,483.9 L291.5,483.7 L292.5,483.1 L293.5,482.4 L294.6,481.5 L295.6,480.7 L296.6,480.2 L297.6,480.0 L298.7,480.2 L299.7,480.5 L300.7,481.0 L301.8,481.4 L302.8,481.7 L303.8,481.7 L304.9,481.6 L305.9,481.4 L306.9,481.4 L307.9,481.5 L309.0,482.0 L310.0,482.7 L311.0,483.5 L312.1,484.3 L313.1,485.0 L314.1,485.3 L315.1,485.3 L316.2,484.9 L317.2,484.4 L318.2,483.8 L319.3,483.4 L320.3,483.0 L321.3,482.5 L322.4,481.8 L323.4,480.2 L324.4,477.4 L325.4,473.0 L326.5,467.2 L327.5,460.6 L328.5,454.4 L329.6,450.0 L330.6,448.9 L331.6,453.8 L332.6,460.8 L333.7,468.6 L334.7,475.6 L335.7,481.2 L336.8,485.0 L337.8,487.3 L338.8,488.6 L339.9,489.4 L340.9,489.9 L341.9,490.4 L342.9,490.9 L344.0,491.4 L345.0,492.0" fill="none" stroke="#222" stroke-width="1.0" stroke-linejoin="round" stroke-linecap="round" />
<path d="M222.5,490.4 L223.5,490.5 L224.6,490.7 L225.6,490.9 L226.6,490.9 L227.6,490.5 L228.7,489.8 L229.7,488.8 L230.7,487.7 L231.8,486.6 L232.8,485.7 L233.8,485.1 L234.9,484.7 L235.9,484.6 L236.9,484.6 L237.9,484.5 L239.0,484.2 L240.0,483.7 L241.0,483.1 L242.1,482.5 L243.1,482.0 L244.1,481.7 L245.1,481.8 L246.2,482.1 L247.2,482.7 L248.2,483.3 L249.3,483.8 L250.3,484.0 L251.3,484.0 L252.4,483.6 L253.4,483.0 L254.4,482.5 L255.4,482.0 L256.5,481.8 L257.5,481.8 L258.5,481.9 L259.6,482.1 L260.6,482.3 L261.6,482.2 L262.6,481.8 L263.7,481.3 L264.7,480.7 L265.7,480.2 L266.8,479.9 L267.8,479.9 L268.8,480.3 L269.9,481.0 L270.9,481.8 L271.9,482.6 L272.9,483.1 L274.0,483.5 L275.0,483.5 L276.0,483.4 L277.1,483.2 L278.1,483.2 L279.1,483.3 L280.1,483.6 L281.2,484.1 L282.2,484.5 L283.2,484.9 L284.3,484.9 L285.3,484.6 L286.3,484.0 L287.4,483.2 L288.4,482.4 L289.4,481.7 L290.4,481.2 L291.5,481.1 L292.5,481.3 L293.5,481.6 L294.6,481.9 L295.6,482.1 L296.6,482.1 L297.6,481.9 L298.7,481.5 L299.7,481.2 L300.7,481.0 L301.8,481.0 L302.8,481.3 L303.8,481.8 L304.9,482.3 L305.9,482.8 L306.9,483.1 L307.9,483.0 L309.0,482.5 L310.0,481.8 L311.0,481.0 L312.1,480.3 L313.1,479.8 L314.1,479.5 L315.1,479.4 L316.2,479.6 L317.2,479.7 L318.2,479.7 L319.3,479.4 L320.3,478.9 L321.3,478.1 L322.4,477.0 L323.4,475.5 L324.4,473.5 L325.4,470.7 L326.5,467.2 L327.5,463.1 L328.5,458.9 L329.6,455.5 L330.6,453.7 L331.6,455.8 L332.6,460.8 L333.7,466.8 L334.7,472.6 L335.7,477.7 L336.8,481.7 L337.8,484.6 L338.8,486.7 L339.9,488.1 L340.9,489.1 L341.9,489.8 L342.9,490.5 L344.0,491.2 L345.0,492.0" fill="none" stroke="#333" stroke-width="1.0" stroke-linejoin="round" stroke-linecap="round" />
<path d="M222.5,489.8 L223.5,489.1 L224.6,488.6 L225.6,488.5 L226.6,488.6 L227.6,488.8 L228.7,489.0 L229.7,489.0 L230.7,488.8 L231.8,488.4 L232.8,487.9 L233.8,487.5 L234.9,487.3 L235.9,487.3 L236.9,487.7 L237.9,488.2 L239.0,488.7 L240.0,489.1 L241.0,489.2 L242.1,489.0 L243.1,488.5 L244.1,487.7 L245.1,486.9 L246.2,486.2 L247.2,485.7 L248.2,485.4 L249.3,485.3 L250.3,485.4 L251.3,485.4 L252.4,485.2 L253.4,484.7 L254.4,484.1 L255.4,483.5 L256.5,482.9 L257.5,482.5 L258.5,482.4 L259.6,482.7 L260.6,483.3 L261.6,484.1 L262.6,484.8 L263.7,485.4 L264.7,485.7 L265.7,485.7 L266.8,485.5 L267.8,485.2 L268.8,485.0 L269.9,485.0 L270.9,485.3 L271.9,485.6 L272.9,486.1 L274.0,486.4 L275.0,486.5 L276.0,486.3 L277.1,485.9 L278.1,485.2 L279.1,484.6 L280.1,484.1 L281.2,483.9 L282.2,484.0 L283.2,484.4 L284.3,485.0 L285.3,485.6 L286.3,486.2 L287.4,486.5 L288.4,486.5 L289.4,486.5 L290.4,486.3 L291.5,486.3 L292.5,486.4 L293.5,486.8 L294.6,487.3 L295.6,488.0 L296.6,488.5 L297.6,488.8 L298.7,488.7 L299.7,488.3 L300.7,487.6 L301.8,486.8 L302.8,486.0 L303.8,485.4 L304.9,485.1 L305.9,485.0 L306.9,485.1 L307.9,485.2 L309.0,485.2 L310.0,485.1 L311.0,484.7 L312.1,484.2 L313.1,483.7 L314.1,483.3 L315.1,483.1 L316.2,483.3 L317.2,483.8 L318.2,484.4 L319.3,485.1 L320.3,485.5 L321.3,485.5 L322.4,485.0 L323.4,483.8 L324.4,481.7 L325.4,478.7 L326.5,474.6 L327.5,469.8 L328.5,464.7 L329.6,460.2 L330.6,457.2 L331.6,456.6 L332.6,460.6 L333.7,465.9 L334.7,471.6 L335.7,476.7 L336.8,480.8 L337.8,483.8 L338.8,486.1 L339.9,487.8 L340.9,489.1 L341.9,490.1 L342.9,490.9 L344.0,491.5 L345.0,492.0" fill="none" stroke="#555" stroke-width="0.7" stroke-linejoin="round" stroke-linecap="round" />
<path d="M222.5,487.5 L223.5,486.6 L224.6,486.0 L225.6,485.8 L226.6,485.8 L227.6,485.9 L228.7,485.8 L229.7,485.6 L230.7,485.1 L231.8,484.4 L232.8,483.7 L233.8,483.0 L234.9,482.5 L235.9,482.2 L236.9,482.2 L237.9,482.2 L239.0,482.2 L240.0,482.0 L241.0,481.6 L242.1,480.8 L243.1,479.8 L244.1,478.7 L245.1,477.7 L246.2,476.9 L247.2,476.5 L248.2,476.4 L249.3,476.5 L250.3,476.8 L251.3,477.0 L252.4,477.0 L253.4,476.9 L254.4,476.6 L255.4,476.2 L256.5,476.0 L257.5,476.0 L258.5,476.3 L259.6,476.8 L260.6,477.5 L261.6,478.2 L262.6,478.7 L263.7,478.9 L264.7,478.8 L265.7,478.4 L266.8,477.7 L267.8,477.1 L268.8,476.5 L269.9,476.2 L270.9,476.2 L271.9,476.3 L272.9,476.4 L274.0,476.5 L275.0,476.3 L276.0,476.0 L277.1,475.4 L278.1,474.7 L279.1,474.2 L280.1,473.9 L281.2,473.9 L282.2,474.2 L283.2,474.7 L284.3,475.4 L285.3,475.9 L286.3,476.2 L287.4,476.2 L288.4,476.0 L289.4,475.5 L290.4,474.9 L291.5,474.5 L292.5,474.2 L293.5,474.1 L294.6,474.2 L295.6,474.2 L296.6,474.2 L297.6,473.9 L298.7,473.3 L299.7,472.5 L300.7,471.5 L301.8,470.6 L302.8,469.8 L303.8,469.4 L304.9,469.3 L305.9,469.5 L306.9,470.0 L307.9,470.4 L309.0,470.7 L310.0,470.8 L311.0,470.6 L312.1,470.4 L313.1,470.1 L314.1,470.0 L315.1,470.1 L316.2,470.4 L317.2,470.9 L318.2,471.5 L319.3,471.8 L320.3,471.7 L321.3,471.1 L322.4,469.7 L323.4,467.5 L324.4,464.8 L325.4,461.7 L326.5,458.8 L327.5,456.6 L328.5,455.6 L329.6,457.2 L330.6,461.0 L331.6,465.2 L332.6,469.3 L333.7,472.8 L334.7,475.7 L335.7,478.0 L336.8,479.9 L337.8,481.8 L338.8,483.5 L339.9,485.2 L340.9,486.8 L341.9,488.2 L342.9,489.6 L344.0,490.8 L345.0,492.0" fill="none" stroke="#888" stroke-width="0.6" stroke-linejoin="round" stroke-linecap="round" />
<path d="M222.5,488.2 L223.5,487.6 L224.6,486.8 L225.6,486.0 L226.6,485.4 L227.6,485.1 L228.7,485.2 L229.7,485.5 L230.7,486.1 L231.8,486.7 L232.8,487.1 L233.8,487.3 L234.9,487.2 L235.9,486.8 L236.9,486.3 L237.9,485.9 L239.0,485.5 L240.0,485.4 L241.0,485.5 L242.1,485.7 L243.1,486.0 L244.1,486.0 L245.1,485.8 L246.2,485.4 L247.2,484.7 L248.2,484.0 L249.3,483.4 L250.3,483.1 L251.3,483.1 L252.4,483.5 L253.4,484.1 L254.4,484.8 L255.4,485.4 L256.5,485.9 L257.5,486.1 L258.5,486.1 L259.6,486.0 L260.6,485.9 L261.6,486.0 L262.6,486.2 L263.7,486.7 L264.7,487.3 L265.7,487.8 L266.8,488.2 L267.8,488.3 L268.8,488.0 L269.9,487.4 L270.9,486.6 L271.9,485.8 L272.9,485.1 L274.0,484.7 L275.0,484.6 L276.0,484.8 L277.1,485.0 L278.1,485.2 L279.1,485.3 L280.1,485.1 L281.2,484.7 L282.2,484.3 L283.2,483.9 L284.3,483.7 L285.3,483.8 L286.3,484.1 L287.4,484.7 L288.4,485.3 L289.4,485.8 L290.4,486.1 L291.5,486.0 L292.5,485.6 L293.5,485.0 L294.6,484.3 L295.6,483.6 L296.6,483.2 L297.6,483.0 L298.7,483.1 L299.7,483.2 L300.7,483.2 L301.8,483.1 L302.8,482.8 L303.8,482.2 L304.9,481.6 L305.9,481.0 L306.9,480.6 L307.9,480.6 L309.0,480.9 L310.0,481.5 L311.0,482.3 L312.1,483.1 L313.1,483.7 L314.1,484.1 L315.1,484.2 L316.2,484.1 L317.2,483.9 L318.2,483.8 L319.3,483.8 L320.3,483.9 L321.3,483.9 L322.4,483.6 L323.4,482.6 L324.4,480.6 L325.4,477.5 L326.5,473.6 L327.5,469.4 L328.5,465.7 L329.6,463.6 L330.6,464.5 L331.6,468.2 L332.6,472.8 L333.7,477.6 L334.7,481.7 L335.7,484.7 L336.8,486.8 L337.8,488.1 L338.8,488.9 L339.9,489.5 L340.9,490.0 L341.9,490.6 L342.9,491.1 L344.0,491.6 L345.0,492.0" fill="none" stroke="#999" stroke-width="0.6" stroke-linejoin="round" stroke-linecap="round" />
<path d="M222.5,488.8 L223.5,488.1 L224.6,487.7 L225.6,487.5 L226.6,487.4 L227.6,487.3 L228.7,487.0 L229.7,486.6 L230.7,486.0 L231.8,485.3 L232.8,484.7 L233.8,484.3 L234.9,484.2 L235.9,484.4 L236.9,484.9 L237.9,485.4 L239.0,485.8 L240.0,485.9 L241.0,485.7 L242.1,485.2 L243.1,484.5 L244.1,483.8 L245.1,483.1 L246.2,482.7 L247.2,482.5 L248.2,482.5 L249.3,482.6 L250.3,482.6 L251.3,482.5 L252.4,482.2 L253.4,481.6 L254.4,481.0 L255.4,480.4 L256.5,480.1 L257.5,480.0 L258.5,480.4 L259.6,481.0 L260.6,481.8 L261.6,482.6 L262.6,483.2 L263.7,483.5 L264.7,483.6 L265.7,483.5 L266.8,483.3 L267.8,483.1 L268.8,483.1 L269.9,483.4 L270.9,483.7 L271.9,484.2 L272.9,484.5 L274.0,484.6 L275.0,484.3 L276.0,483.8 L277.1,483.1 L278.1,482.3 L279.1,481.6 L280.1,481.2 L281.2,481.1 L282.2,481.3 L283.2,481.7 L284.3,482.1 L285.3,482.4 L286.3,482.5 L287.4,482.4 L288.4,482.1 L289.4,481.8 L290.4,481.6 L291.5,481.5 L292.5,481.7 L293.5,482.2 L294.6,482.7 L295.6,483.1 L296.6,483.3 L297.6,483.2 L298.7,482.8 L299.7,482.0 L300.7,481.1 L301.8,480.3 L302.8,479.6 L303.8,479.2 L304.9,479.1 L305.9,479.1 L306.9,479.2 L307.9,479.2 L309.0,479.0 L310.0,478.7 L311.0,478.1 L312.1,477.6 L313.1,477.2 L314.1,477.1 L315.1,477.3 L316.2,477.9 L317.2,478.6 L318.2,479.4 L319.3,480.0 L320.3,480.4 L321.3,480.4 L322.4,480.1 L323.4,479.4 L324.4,478.3 L325.4,476.7 L326.5,474.3 L327.5,470.9 L328.5,466.4 L329.6,461.0 L330.6,455.5 L331.6,450.9 L332.6,448.2 L333.7,450.6 L334.7,456.5 L335.7,463.6 L336.8,470.5 L337.8,476.6 L338.8,481.2 L339.9,484.7 L340.9,487.1 L341.9,488.8 L342.9,490.1 L344.0,491.1 L345.0,492.0" fill="none" stroke="#444" stroke-width="0.8" stroke-linejoin="round" stroke-linecap="round" />
<rect x="227.4" y="417" width="41.5" height="33.6" fill="#0a0a0a"/>
<rect x="229.5" y="442" width="4.6" height="2.2" fill="#e8e8e8"/>
<rect x="231.1" y="401.5" width="1.3" height="13" fill="#333" opacity="0.55"/>
<rect x="235.3" y="442" width="4.6" height="2.2" fill="#e8e8e8"/>
<rect x="236.9" y="401.5" width="1.3" height="13" fill="#333" opacity="0.55"/>
<rect x="241.1" y="442" width="4.6" height="2.2" fill="#e8e8e8"/>
<rect x="242.7" y="401.5" width="1.3" height="13" fill="#333" opacity="0.55"/>
<rect x="246.9" y="442" width="4.6" height="2.2" fill="#e8e8e8"/>
<rect x="248.5" y="401.5" width="1.3" height="13" fill="#333" opacity="0.55"/>
<rect x="252.7" y="442" width="4.6" height="2.2" fill="#e8e8e8"/>
<rect x="254.3" y="401.5" width="1.3" height="13" fill="#333" opacity="0.55"/>
<rect x="258.5" y="442" width="4.6" height="2.2" fill="#e8e8e8"/>
<rect x="260.1" y="401.5" width="1.3" height="13" fill="#333" opacity="0.55"/>
<rect x="264.5" y="422" width="3.5" height="1" fill="#bbb"/>
<rect x="264.5" y="425" width="3.5" height="1" fill="#bbb"/>
<rect x="264.5" y="428" width="3.5" height="1" fill="#bbb"/>
<rect x="264.5" y="431" width="3.5" height="1" fill="#bbb"/>
<rect x="264.5" y="435" width="3.5" height="1" fill="#bbb"/>
<rect x="264.5" y="438" width="3.5" height="1" fill="#bbb"/>
<text x="222.4" y="526" font-family="'Liberation Sans', sans-serif" font-size="17.1" fill="#1c1c1c" text-anchor="start" font-weight="normal" >Genome mining</text>
<defs><clipPath id="bioclip"><rect x="419.7" y="363.9" width="105.5" height="138.1"/></clipPath><filter id="soft" x="-5%" y="-5%" width="110%" height="110%"><feGaussianBlur stdDeviation="0.7"/></filter></defs>
<g clip-path="url(#bioclip)"><g filter="url(#soft)">
<rect x="415.0" y="360.0" width="116.4" height="147.4" fill="#a8aca8" />
<rect x="481.7" y="360.0" width="49.7" height="34.1" fill="#c4ccc4" />
<rect x="511.2" y="387.9" width="20.2" height="80.7" fill="#b8c0bc" />
<rect x="419.7" y="414.3" width="21.7" height="93.1" fill="#30323c" />
<rect x="419.7" y="429.8" width="17.1" height="17.1" fill="#7a8088" opacity="0.7"/>
<rect x="419.7" y="481.1" width="21.7" height="26.4" fill="#3a4038" />
<polygon points="439.8,411.2 446.0,406.6 467.8,406.6 472.4,411.2 472.4,471.7 466.2,478.0 446.0,478.0 439.8,471.7" fill="#8a8c96" />
<polygon points="439.8,425.2 453.8,425.2 453.8,478.0 446.0,478.0 439.8,471.7" fill="#6a6c8c" />
<rect x="464.7" y="414.3" width="7.8" height="26.4" fill="#c8ccd0" opacity="0.5"/>
<rect x="464.7" y="415.9" width="6.2" height="21.7" fill="#3a3c48" opacity="0.6" rx="3"/>
<rect x="446.0" y="364.7" width="6.2" height="45.0" fill="#4a4c54" />
<rect x="454.6" y="372.4" width="7.0" height="37.2" fill="#6a6c74" />
<polygon points="441.4,369.3 452.2,364.7 455.4,377.1 446.0,381.7" fill="#222228" />
<polygon points="453.8,366.2 467.8,369.3 470.1,380.2 460.0,383.3 453.0,378.6" fill="#1e1e26" />
<rect x="436.7" y="391.0" width="3.9" height="34.1" fill="#3a3a40" />
<rect x="440.6" y="394.1" width="3.1" height="17.1" fill="#a05a30" opacity="0.6"/>
<polygon points="439.8,471.7 472.4,471.7 474.0,502.0 438.3,502.0" fill="#2c2c38" />
<rect x="446.0" y="478.0" width="6.2" height="24.1" fill="#6a6c78" opacity="0.7"/>
<polygon points="463.1,393.4 486.4,387.2 498.8,391.0 498.8,490.4 483.3,491.9 470.9,484.2 469.3,422.1" fill="#8e9298" />
<polygon points="469.3,422.1 481.7,419.0 481.7,487.3 470.9,484.2" fill="#55577e" />
<rect x="486.4" y="391.0" width="12.4" height="21.7" fill="#c4c8cc" />
<rect x="487.9" y="393.4" width="9.3" height="16.3" fill="#dfe2e4" />
<rect x="483.3" y="432.9" width="14.0" height="14.0" fill="#9aa0a8" />
<circle cx="486.4" cy="446.1" r="1.8" fill="#2a2a30"/>
<circle cx="492.6" cy="446.1" r="1.8" fill="#2a2a30"/>
<circle cx="486.4" cy="453.1" r="1.8" fill="#2a2a30"/>
<circle cx="492.6" cy="453.1" r="1.8" fill="#2a2a30"/>
<circle cx="486.4" cy="460.1" r="1.8" fill="#2a2a30"/>
<circle cx="492.6" cy="460.1" r="1.8" fill="#2a2a30"/>
<circle cx="492.6" cy="432.9" r="1.5" fill="#d04040"/>
<polygon points="499.6,392.6 517.4,392.6 519.0,460.9 499.6,462.4" fill="#777b9c" />
<rect x="506.6" y="395.7" width="7.8" height="63.6" fill="#9aa0c0" opacity="0.6"/>
<path d="M501.9,364.7 L499.6,391.0 M506.6,364.7 L517.4,391.0 M509.7,364.7 L508.1,391.0" stroke="#2a2a34" stroke-width="2"/>
<rect x="481.7" y="364.7" width="17.1" height="26.4" fill="#c8d0c8" opacity="0.6"/>
<polygon points="474.0,491.9 501.9,484.2 525.2,474.9 525.2,502.0 474.0,502.0" fill="#b8bcc4" />
<polygon points="497.3,465.5 523.6,465.5 523.6,478.0 514.3,482.6 498.8,478.0" fill="#2a2c34" />
<circle cx="515.9" cy="479.5" r="3" fill="#1a1a20"/>
<circle cx="522.1" cy="473.3" r="2.5" fill="#1a1a20"/>
</g></g>
<text x="385.3" y="525.6" font-family="'Liberation Sans', sans-serif" font-size="17.1" fill="#1c1c1c" text-anchor="start" font-weight="normal" >Strain optimization &amp; pilot production</text>
<text x="533.3" y="337.3" font-family="'Liberation Sans', sans-serif" font-size="17.1" fill="#1c1c1c" text-anchor="start" font-weight="normal" >Late-stage</text>
<text x="515.1" y="356" font-family="'Liberation Sans', sans-serif" font-size="17.1" fill="#1c1c1c" text-anchor="start" font-weight="normal" >functionalization</text>
<line x1="549" y1="382.1" x2="594" y2="382.1" stroke="#1a1ad0" stroke-width="1.2"/>
<polygon points="603,382.1 593,378.8 595,382.1 593,385.40000000000003" fill="#1a1ad0"/>
<line x1="557.5" y1="391.2" x2="602" y2="391.2" stroke="#1a1ad0" stroke-width="1.2"/>
<polygon points="611,391.2 601,387.9 603,391.2 601,394.5" fill="#1a1ad0"/>
<line x1="563" y1="399.8" x2="608" y2="399.8" stroke="#1a1ad0" stroke-width="1.2"/>
<polygon points="617,399.8 607,396.5 609,399.8 607,403.1" fill="#1a1ad0"/>
<text x="579.5" y="436.2" font-family="'Liberation Sans', sans-serif" font-size="17.1" fill="#1c1c1c" text-anchor="middle" font-weight="normal" >PTM</text>
<text x="579.8" y="455.4" font-family="'Liberation Sans', sans-serif" font-size="17.1" fill="#1c1c1c" text-anchor="middle" font-weight="normal" >(1.5 g/L)</text>
<path d="M659,302.5 C652,303 648.6,306 648.6,314 L648.6,384 C648.6,390 645,394 635,395 C645,396 648.6,400 648.6,406 L648.6,476 C648.6,484 652,487 659,488" fill="none" stroke="#2a2a2a" stroke-width="1.2"/>
<path d="M672.6,269.5 L691.9,281.0 L713.9,269.5 L735.0,281.0 L757.0,269.5 L779.8,281.0" fill="none" stroke="#1c1c1c" stroke-width="1.3" stroke-linejoin="round" stroke-linecap="round" />
<path d="M681.4,263.4 L680.7,264.1 L680.1,264.7 L679.8,265.3 L680.0,265.9 L680.5,266.4 L681.2,266.9 L682.1,267.4 L683.0,267.8 L683.6,268.3 L683.8,268.9 L683.7,269.5 L683.2,270.1 L682.5,270.8 L681.8,271.4 L681.1,272.1 L680.7,272.7 L680.7,273.3 L681.1,273.8 L681.8,274.3 L682.7,274.8 L683.6,275.3 L684.3,275.8 L684.7,276.3 L684.7,276.9 L684.3,277.5 L683.6,278.2 L682.9,278.8 L682.2,279.5 L681.7,280.1 L681.6,280.7 L681.8,281.3 L682.4,281.8 L683.3,282.2 L684.2,282.7 L684.9,283.2 L685.4,283.7 L685.6,284.3 L685.3,284.9 L684.7,285.5 L684.0,286.2" fill="none" stroke="#1c1c1c" stroke-width="1.15" stroke-linejoin="round" stroke-linecap="round" />
<polygon points="735.0,281.0 737.1,257.2 732.9,257.2" fill="#1c1c1c"/>
<path d="M757.0,269.5 L757.0,252.0" fill="none" stroke="#1c1c1c" stroke-width="1.3" stroke-linejoin="round" stroke-linecap="round" />
<path d="M753.0,269.0 L753.0,252.0" fill="none" stroke="#1c1c1c" stroke-width="1.3" stroke-linejoin="round" stroke-linecap="round" />
<text x="749.5" y="251.5" font-family="'Liberation Sans', sans-serif" font-size="16.5" fill="#1c1c1c" text-anchor="start" font-weight="normal" >O</text>
<path d="M779.8,281.0 L779.8,312.6" fill="none" stroke="#c8365e" stroke-width="1.3" stroke-linejoin="round" stroke-linecap="round" />
<path d="M779.8,312.6 L756.1,305.6" fill="none" stroke="#1c1c1c" stroke-width="1.3" stroke-linejoin="round" stroke-linecap="round" />
<line x1="756.1" y1="282.7" x2="756.1" y2="305.6" stroke="#1c1c1c" stroke-width="3.4" stroke-linecap="butt"/>
<path d="M756.1,282.7 L722.7,295.9" fill="none" stroke="#1c1c1c" stroke-width="1.3" stroke-linejoin="round" stroke-linecap="round" />
<line x1="722.7" y1="295.9" x2="722.7" y2="323.2" stroke="#1c1c1c" stroke-width="3.4" stroke-linecap="butt"/>
<path d="M735.0,281.0 L735.0,292.0" fill="none" stroke="#1c1c1c" stroke-width="1.3" stroke-linejoin="round" stroke-linecap="round" />
<path d="M735.0,299.0 L735.0,315.3" fill="none" stroke="#1c1c1c" stroke-width="1.3" stroke-linejoin="round" stroke-linecap="round" />
<path d="M735.0,315.3 L756.1,305.6" fill="none" stroke="#1c1c1c" stroke-width="1.3" stroke-linejoin="round" stroke-linecap="round" />
<line x1="711.2" y1="285.4" x2="711.2" y2="309.1" stroke="#1c1c1c" stroke-width="3.4" stroke-linecap="butt"/>
<path d="M711.2,285.4 L722.7,295.9" fill="none" stroke="#1c1c1c" stroke-width="1.3" stroke-linejoin="round" stroke-linecap="round" />
<path d="M711.2,309.1 L718.0,311.0" fill="none" stroke="#1c1c1c" stroke-width="1.3" stroke-linejoin="round" stroke-linecap="round" />
<path d="M726.0,313.0 L735.0,315.3" fill="none" stroke="#1c1c1c" stroke-width="1.3" stroke-linejoin="round" stroke-linecap="round" />
<path d="M711.2,309.1 L702.0,323.0" fill="none" stroke="#1c1c1c" stroke-width="1.3" stroke-linejoin="round" stroke-linecap="round" />
<text x="691" y="337" font-family="'Liberation Sans', sans-serif" font-size="16.5" fill="#1c1c1c" text-anchor="start" font-weight="normal" >O</text>
<path d="M705.0,328.0 L722.7,323.2 L745.5,329.3 L756.1,305.6" fill="none" stroke="#1c1c1c" stroke-width="1.3" stroke-linejoin="round" stroke-linecap="round" />
<path d="M722.7,323.2 L710.4,345.1" fill="none" stroke="#1c1c1c" stroke-width="1.3" stroke-linejoin="round" stroke-linecap="round" />
<line x1="779.6" y1="315.6" x2="780.0" y2="315.6" stroke="#c8365e" stroke-width="1"/>
<line x1="779.1" y1="318.8" x2="780.5" y2="318.8" stroke="#c8365e" stroke-width="1"/>
<line x1="778.7" y1="322.0" x2="780.9" y2="322.0" stroke="#c8365e" stroke-width="1"/>
<line x1="778.2" y1="325.2" x2="781.4" y2="325.2" stroke="#c8365e" stroke-width="1"/>
<line x1="777.8" y1="328.4" x2="781.8" y2="328.4" stroke="#c8365e" stroke-width="1"/>
<text x="774.5" y="343.4" font-family="'Liberation Sans', sans-serif" font-size="16.5" fill="#c8365e" text-anchor="start" font-weight="normal" >SR</text>
<text x="664.7" y="373.3" font-family="'Liberation Sans', sans-serif" font-size="17.1" fill="#1c1c1c" text-anchor="start" font-weight="normal" ><tspan font-weight="bold">vii</tspan> (R = Alkyl or Acyl)</text>
<path d="M848.8,267.1 L869.8,278.5 L890.9,267.1 L911.9,277.6 L933.8,267.1 L956.6,276.7 L956.6,310.0 L932.9,303.9" fill="none" stroke="#1c1c1c" stroke-width="1.3" stroke-linejoin="round" stroke-linecap="round" />
<path d="M857.5,262.7 L856.8,263.4 L856.2,264.1 L856.0,264.7 L856.2,265.2 L856.7,265.7 L857.5,266.2 L858.4,266.6 L859.2,267.1 L859.9,267.6 L860.2,268.1 L860.0,268.7 L859.6,269.4 L858.9,270.1 L858.2,270.8 L857.6,271.4 L857.2,272.1 L857.2,272.7 L857.6,273.2 L858.4,273.7 L859.2,274.1 L860.1,274.5 L860.9,275.0 L861.3,275.5 L861.3,276.1 L860.9,276.8 L860.3,277.4 L859.6,278.1 L858.9,278.8 L858.5,279.5 L858.3,280.1 L858.6,280.6 L859.3,281.1 L860.1,281.6 L861.0,282.0 L861.8,282.5 L862.3,283.0 L862.5,283.5 L862.3,284.1 L861.7,284.8 L861.0,285.5" fill="none" stroke="#1c1c1c" stroke-width="1.15" stroke-linejoin="round" stroke-linecap="round" />
<polygon points="911.9,277.6 914.0,254.8 909.8,254.8" fill="#1c1c1c"/>
<path d="M933.8,267.1 L933.8,250.0" fill="none" stroke="#1c1c1c" stroke-width="1.3" stroke-linejoin="round" stroke-linecap="round" />
<path d="M929.8,266.5 L929.8,250.0" fill="none" stroke="#1c1c1c" stroke-width="1.3" stroke-linejoin="round" stroke-linecap="round" />
<text x="926" y="249.5" font-family="'Liberation Sans', sans-serif" font-size="16.5" fill="#1c1c1c" text-anchor="start" font-weight="normal" >O</text>
<path d="M951.3,281.0 L951.3,302.0" fill="none" stroke="#1c1c1c" stroke-width="1.3" stroke-linejoin="round" stroke-linecap="round" />
<path d="M956.6,276.7 L968.9,270.6" fill="none" stroke="#c8365e" stroke-width="1.3" stroke-linejoin="round" stroke-linecap="round" />
<text x="971" y="271.5" font-family="'Liberation Sans', sans-serif" font-size="16.5" fill="#c8365e" text-anchor="start" font-weight="normal" >R</text>
<line x1="932.9" y1="280.2" x2="932.9" y2="303.9" stroke="#1c1c1c" stroke-width="3.4" stroke-linecap="butt"/>
<path d="M932.9,280.2 L899.6,294.3" fill="none" stroke="#1c1c1c" stroke-width="1.3" stroke-linejoin="round" stroke-linecap="round" />
<line x1="899.6" y1="294.3" x2="899.6" y2="321.4" stroke="#1c1c1c" stroke-width="3.4" stroke-linecap="butt"/>
<path d="M911.9,277.6 L911.9,289.0" fill="none" stroke="#1c1c1c" stroke-width="1.3" stroke-linejoin="round" stroke-linecap="round" />
<path d="M911.9,296.0 L911.9,311.8" fill="none" stroke="#1c1c1c" stroke-width="1.3" stroke-linejoin="round" stroke-linecap="round" />
<path d="M911.9,311.8 L932.9,303.9" fill="none" stroke="#1c1c1c" stroke-width="1.3" stroke-linejoin="round" stroke-linecap="round" />
<line x1="887.3" y1="282.9" x2="887.3" y2="306.5" stroke="#1c1c1c" stroke-width="3.4" stroke-linecap="butt"/>
<path d="M887.3,282.9 L899.6,294.3" fill="none" stroke="#1c1c1c" stroke-width="1.3" stroke-linejoin="round" stroke-linecap="round" />
<path d="M887.3,306.5 L894.0,308.5" fill="none" stroke="#1c1c1c" stroke-width="1.3" stroke-linejoin="round" stroke-linecap="round" />
<path d="M904.0,310.0 L911.9,311.8" fill="none" stroke="#1c1c1c" stroke-width="1.3" stroke-linejoin="round" stroke-linecap="round" />
<path d="M887.3,306.5 L878.5,320.0" fill="none" stroke="#1c1c1c" stroke-width="1.3" stroke-linejoin="round" stroke-linecap="round" />
<text x="867.5" y="334.5" font-family="'Liberation Sans', sans-serif" font-size="16.5" fill="#1c1c1c" text-anchor="start" font-weight="normal" >O</text>
<path d="M881.5,326.0 L899.6,321.4 L922.4,326.7 L932.9,303.9" fill="none" stroke="#1c1c1c" stroke-width="1.3" stroke-linejoin="round" stroke-linecap="round" />
<path d="M899.6,321.4 L887.3,341.6" fill="none" stroke="#1c1c1c" stroke-width="1.3" stroke-linejoin="round" stroke-linecap="round" />
<text x="883" y="371.4" font-family="'Liberation Sans', sans-serif" font-size="17.1" fill="#1c1c1c" text-anchor="start" font-weight="normal" xml:space="preserve"><tspan font-weight="bold">vi</tspan> (R =  Aryl)</text>
<path d="M669.4,448.0 L689.3,459.8 L710.4,449.2 L731.5,459.8 L753.7,449.2 L776.0,457.4" fill="none" stroke="#1c1c1c" stroke-width="1.3" stroke-linejoin="round" stroke-linecap="round" />
<path d="M676.4,441.0 L675.8,441.7 L675.3,442.3 L675.1,442.9 L675.3,443.5 L675.7,444.0 L676.5,444.4 L677.3,444.9 L678.0,445.3 L678.6,445.8 L678.9,446.3 L678.8,446.9 L678.4,447.5 L677.8,448.2 L677.2,448.9 L676.6,449.5 L676.3,450.2 L676.4,450.7 L676.7,451.2 L677.4,451.7 L678.2,452.1 L679.0,452.6 L679.7,453.1 L680.0,453.6 L680.1,454.1 L679.8,454.8 L679.2,455.4 L678.6,456.1 L678.0,456.8 L677.6,457.4 L677.5,458.0 L677.8,458.5 L678.4,459.0 L679.1,459.4 L679.9,459.9 L680.7,460.3 L681.1,460.8 L681.3,461.4 L681.1,462.0 L680.6,462.6 L680.0,463.3" fill="none" stroke="#1c1c1c" stroke-width="1.15" stroke-linejoin="round" stroke-linecap="round" />
<polygon points="731.5,459.8 733.5,436.3 729.5,436.3" fill="#1c1c1c"/>
<path d="M753.7,449.2 L753.7,432.0" fill="none" stroke="#1c1c1c" stroke-width="1.3" stroke-linejoin="round" stroke-linecap="round" />
<path d="M749.7,448.5 L749.7,432.0" fill="none" stroke="#1c1c1c" stroke-width="1.3" stroke-linejoin="round" stroke-linecap="round" />
<text x="746" y="431" font-family="'Liberation Sans', sans-serif" font-size="16.5" fill="#1c1c1c" text-anchor="start" font-weight="normal" >O</text>
<path d="M776.0,457.4 L776.0,493.7" fill="none" stroke="#c8365e" stroke-width="1.4" stroke-linejoin="round" stroke-linecap="round" />
<polygon points="776.0,457.4 778.0,443.0 774.0,443.0" fill="#d8203e"/>
<polygon points="776.0,493.7 774.0,507.5 778.0,507.5" fill="#d8203e"/>
<text x="770.5" y="442.5" font-family="'Liberation Sans', sans-serif" font-size="16.5" fill="#d8203e" text-anchor="start" font-weight="normal" >H</text>
<text x="770.5" y="521" font-family="'Liberation Sans', sans-serif" font-size="16.5" fill="#d8203e" text-anchor="start" font-weight="normal" >H</text>
<path d="M776.0,493.7 L752.6,484.4" fill="none" stroke="#1c1c1c" stroke-width="1.3" stroke-linejoin="round" stroke-linecap="round" />
<line x1="752.6" y1="462.1" x2="752.6" y2="484.4" stroke="#1c1c1c" stroke-width="3.4" stroke-linecap="butt"/>
<path d="M752.6,462.1 L719.8,475.0" fill="none" stroke="#1c1c1c" stroke-width="1.3" stroke-linejoin="round" stroke-linecap="round" />
<line x1="719.8" y1="475.0" x2="719.8" y2="503.1" stroke="#1c1c1c" stroke-width="3.4" stroke-linecap="butt"/>
<path d="M731.5,459.8 L731.5,470.0" fill="none" stroke="#1c1c1c" stroke-width="1.3" stroke-linejoin="round" stroke-linecap="round" />
<path d="M731.5,477.0 L731.5,493.7" fill="none" stroke="#1c1c1c" stroke-width="1.3" stroke-linejoin="round" stroke-linecap="round" />
<path d="M731.5,493.7 L752.6,484.4" fill="none" stroke="#1c1c1c" stroke-width="1.3" stroke-linejoin="round" stroke-linecap="round" />
<line x1="708.0" y1="463.3" x2="708.0" y2="487.9" stroke="#1c1c1c" stroke-width="3.4" stroke-linecap="butt"/>
<path d="M708.0,463.3 L719.8,475.0" fill="none" stroke="#1c1c1c" stroke-width="1.3" stroke-linejoin="round" stroke-linecap="round" />
<path d="M708.0,487.9 L715.0,490.0" fill="none" stroke="#1c1c1c" stroke-width="1.3" stroke-linejoin="round" stroke-linecap="round" />
<path d="M724.0,492.0 L731.5,493.7" fill="none" stroke="#1c1c1c" stroke-width="1.3" stroke-linejoin="round" stroke-linecap="round" />
<path d="M708.0,487.9 L699.0,502.0" fill="none" stroke="#1c1c1c" stroke-width="1.3" stroke-linejoin="round" stroke-linecap="round" />
<text x="688" y="516" font-family="'Liberation Sans', sans-serif" font-size="16.5" fill="#1c1c1c" text-anchor="start" font-weight="normal" >O</text>
<path d="M702.0,507.0 L719.8,503.1 L743.2,509.0 L752.6,484.4" fill="none" stroke="#1c1c1c" stroke-width="1.3" stroke-linejoin="round" stroke-linecap="round" />
<path d="M719.8,503.1 L706.9,523.0" fill="none" stroke="#1c1c1c" stroke-width="1.3" stroke-linejoin="round" stroke-linecap="round" />
<path d="M776.0,457.4 L798.3,446.9 L819.4,457.4" fill="none" stroke="#c8365e" stroke-width="1.3" stroke-linejoin="round" stroke-linecap="round" />
<line x1="798.5" y1="443.6" x2="798.1" y2="443.6" stroke="#c8365e" stroke-width="1"/>
<line x1="799.0" y1="440.8" x2="797.6" y2="440.8" stroke="#c8365e" stroke-width="1"/>
<line x1="799.4" y1="438.0" x2="797.2" y2="438.0" stroke="#c8365e" stroke-width="1"/>
<line x1="799.9" y1="435.2" x2="796.7" y2="435.2" stroke="#c8365e" stroke-width="1"/>
<line x1="800.3" y1="432.4" x2="796.3" y2="432.4" stroke="#c8365e" stroke-width="1"/>
<text x="791.2" y="428.1" font-family="'Liberation Sans', sans-serif" font-size="16.5" fill="#c8365e" text-anchor="start" font-weight="normal" >OH</text>
<path d="M819.4,457.4 L842.8,445.7 L866.2,457.4 L866.2,485.5 L842.8,498.4 L819.4,485.5 L819.4,457.4" fill="none" stroke="#c8365e" stroke-width="1.3" stroke-linejoin="round" stroke-linecap="round" />
<path d="M824.0,461.0 L824.0,482.0" fill="none" stroke="#c8365e" stroke-width="1.3" stroke-linejoin="round" stroke-linecap="round" />
<path d="M843.0,450.5 L861.5,460.0" fill="none" stroke="#c8365e" stroke-width="1.3" stroke-linejoin="round" stroke-linecap="round" />
<path d="M861.5,483.0 L843.0,493.5" fill="none" stroke="#c8365e" stroke-width="1.3" stroke-linejoin="round" stroke-linecap="round" />
<path d="M819.4,485.5 L806.0,493.5" fill="none" stroke="#c8365e" stroke-width="1.3" stroke-linejoin="round" stroke-linecap="round" />
<text x="800" y="505" font-family="'Liberation Sans', sans-serif" font-size="16.5" fill="#c8365e" text-anchor="middle" font-weight="normal" >S</text>
<path d="M794.0,497.5 L776.0,493.7" fill="none" stroke="#c8365e" stroke-width="1.3" stroke-linejoin="round" stroke-linecap="round" />
<path d="M858.0,469.0 L875.0,469.0" fill="none" stroke="#c8365e" stroke-width="1.3" stroke-linejoin="round" stroke-linecap="round" />
<text x="876.5" y="477.3" font-family="'Liberation Sans', sans-serif" font-size="16.5" fill="#c8365e" text-anchor="start" font-weight="normal" >R</text>
<text x="886.6" y="505.2" font-family="'Liberation Sans', sans-serif" font-size="17.1" fill="#1c1c1c" text-anchor="start" font-weight="normal" ><tspan font-weight="bold">v</tspan> (R = Alkyl</text>
<text x="914.7" y="525.5" font-family="'Liberation Sans', sans-serif" font-size="17.1" fill="#1c1c1c" text-anchor="start" font-weight="normal" >or Halogen)</text>
<rect x="0.5" y="566.4" width="270.2" height="329.4" fill="#ca2149"/>
<rect x="0" y="587" width="248.8" height="2.8" fill="#f2bd3c"/>
<text x="22" y="603" font-family="'Liberation Sans', sans-serif" font-size="4.8" fill="#7a1030" text-anchor="start" font-weight="normal" >June 27, 2019</text>
<text x="22" y="612" font-family="'Liberation Sans', sans-serif" font-size="4.8" fill="#7a1030" text-anchor="start" font-weight="normal" >Volume 62 • Number 12</text>
<text x="22" y="621" font-family="'Liberation Sans', sans-serif" font-size="4.8" fill="#7a1030" text-anchor="start" font-weight="normal" >pubs.acs.org/jmc</text>
<text x="248.8" y="629" font-family="'Liberation Sans', sans-serif" font-size="15.6" fill="#f7d21e" text-anchor="end" font-weight="bold" textLength="59" lengthAdjust="spacingAndGlyphs">Journal of</text>
<text x="247.5" y="660.3" font-family="'Liberation Sans', sans-serif" font-size="31.5" fill="#f7d21e" text-anchor="end" font-weight="bold" textLength="124.5" lengthAdjust="spacingAndGlyphs">Medicinal</text>
<text x="247.5" y="686.5" font-family="'Liberation Sans', sans-serif" font-size="31.5" fill="#f7d21e" text-anchor="end" font-weight="bold" textLength="125.8" lengthAdjust="spacingAndGlyphs">Chemistry</text>
<defs><clipPath id="jmcclip"><rect x="24.2" y="705.5" width="221.6" height="171.6"/></clipPath>
<linearGradient id="jmcbg" x1="0" y1="0" x2="1" y2="1"><stop offset="0" stop-color="#9a3040"/><stop offset="1" stop-color="#7a2030"/></linearGradient></defs>
<rect x="22.7" y="704" width="224.6" height="174.6" fill="#f3b12a"/>
<g clip-path="url(#jmcclip)">
<rect x="23.4" y="705.2" width="224.4" height="172.5" fill="#8e2b36"/>
<path d="M160.7,700 L178.7,885" stroke="#7a2430" stroke-width="4.8" opacity="0.82"/>
<path d="M190.0,700 L208.0,885" stroke="#5a1620" stroke-width="5.7" opacity="0.78"/>
<path d="M199.0,700 L217.0,885" stroke="#5a1620" stroke-width="2.6" opacity="0.81"/>
<path d="M33.3,700 L51.3,885" stroke="#4e121c" stroke-width="3.6" opacity="0.57"/>
<path d="M30.5,700 L48.5,885" stroke="#7a2430" stroke-width="2.6" opacity="0.50"/>
<path d="M74.9,700 L92.9,885" stroke="#a8444e" stroke-width="5.6" opacity="0.47"/>
<path d="M204.3,700 L222.3,885" stroke="#9c3a44" stroke-width="2.1" opacity="0.60"/>
<path d="M38.1,700 L56.1,885" stroke="#5a1620" stroke-width="5.9" opacity="0.49"/>
<path d="M58.9,700 L76.9,885" stroke="#4e121c" stroke-width="5.9" opacity="0.53"/>
<path d="M245.4,700 L263.4,885" stroke="#7a2430" stroke-width="3.9" opacity="0.68"/>
<path d="M50.4,700 L68.4,885" stroke="#4e121c" stroke-width="5.9" opacity="0.83"/>
<path d="M228.4,700 L246.4,885" stroke="#6a1c28" stroke-width="2.8" opacity="0.59"/>
<path d="M238.9,700 L256.9,885" stroke="#6a1c28" stroke-width="2.7" opacity="0.54"/>
<path d="M155.8,700 L173.8,885" stroke="#7a2430" stroke-width="1.5" opacity="0.72"/>
<path d="M21.5,700 L39.5,885" stroke="#6a1c28" stroke-width="3.1" opacity="0.62"/>
<path d="M83.9,700 L101.9,885" stroke="#7a2430" stroke-width="3.7" opacity="0.48"/>
<path d="M69.0,700 L87.0,885" stroke="#7a2430" stroke-width="5.7" opacity="0.56"/>
<path d="M106.1,700 L124.1,885" stroke="#a8444e" stroke-width="4.0" opacity="0.56"/>
<path d="M149.6,700 L167.6,885" stroke="#5a1620" stroke-width="1.5" opacity="0.72"/>
<path d="M160.9,700 L178.9,885" stroke="#5a1620" stroke-width="5.8" opacity="0.74"/>
<path d="M237.4,700 L255.4,885" stroke="#6a1c28" stroke-width="5.7" opacity="0.63"/>
<path d="M228.2,700 L246.2,885" stroke="#a8444e" stroke-width="2.6" opacity="0.45"/>
<path d="M192.1,700 L210.1,885" stroke="#6a1c28" stroke-width="5.1" opacity="0.42"/>
<path d="M241.5,700 L259.5,885" stroke="#6a1c28" stroke-width="1.9" opacity="0.63"/>
<path d="M95.7,700 L113.7,885" stroke="#6a1c28" stroke-width="2.2" opacity="0.82"/>
<path d="M141.3,700 L159.3,885" stroke="#6a1c28" stroke-width="2.9" opacity="0.54"/>
<path d="M204.7,700 L222.7,885" stroke="#7a2430" stroke-width="4.3" opacity="0.71"/>
<path d="M254.2,700 L272.2,885" stroke="#5a1620" stroke-width="2.2" opacity="0.44"/>
<path d="M155.2,700 L173.2,885" stroke="#5a1620" stroke-width="5.7" opacity="0.51"/>
<path d="M153.5,700 L171.5,885" stroke="#a8444e" stroke-width="5.2" opacity="0.69"/>
<path d="M41.4,700 L59.4,885" stroke="#7a2430" stroke-width="5.9" opacity="0.41"/>
<path d="M128.4,700 L146.4,885" stroke="#4e121c" stroke-width="5.3" opacity="0.84"/>
<path d="M146.0,700 L164.0,885" stroke="#a8444e" stroke-width="2.1" opacity="0.45"/>
<path d="M113.6,700 L131.6,885" stroke="#a8444e" stroke-width="2.2" opacity="0.53"/>
<path d="M118.3,700 L136.3,885" stroke="#4e121c" stroke-width="6.0" opacity="0.84"/>
<path d="M118.4,700 L136.4,885" stroke="#7a2430" stroke-width="3.7" opacity="0.54"/>
<path d="M73.5,700 L91.5,885" stroke="#4e121c" stroke-width="3.6" opacity="0.45"/>
<path d="M210.5,700 L228.5,885" stroke="#4e121c" stroke-width="3.9" opacity="0.68"/>
<path d="M129.8,700 L147.8,885" stroke="#5a1620" stroke-width="3.0" opacity="0.62"/>
<path d="M133.8,700 L151.8,885" stroke="#9c3a44" stroke-width="4.0" opacity="0.56"/>
<path d="M201.5,700 L219.5,885" stroke="#7a2430" stroke-width="5.0" opacity="0.66"/>
<path d="M13.6,700 L31.6,885" stroke="#9c3a44" stroke-width="2.9" opacity="0.72"/>
<path d="M75.2,700 L93.2,885" stroke="#7a2430" stroke-width="3.7" opacity="0.72"/>
<path d="M244.2,700 L262.2,885" stroke="#4e121c" stroke-width="3.0" opacity="0.66"/>
<path d="M7.9,700 L25.9,885" stroke="#6a1c28" stroke-width="4.0" opacity="0.55"/>
<path d="M73.4,700 L91.4,885" stroke="#9c3a44" stroke-width="2.8" opacity="0.69"/>
<path d="M204.4,700 L222.4,885" stroke="#7a2430" stroke-width="3.1" opacity="0.56"/>
<path d="M239.4,700 L257.4,885" stroke="#4e121c" stroke-width="3.3" opacity="0.79"/>
<path d="M177.1,700 L195.1,885" stroke="#6a1c28" stroke-width="5.9" opacity="0.63"/>
<path d="M137.3,700 L155.3,885" stroke="#6a1c28" stroke-width="2.2" opacity="0.82"/>
<path d="M124.3,700 L142.3,885" stroke="#7a2430" stroke-width="4.6" opacity="0.70"/>
<path d="M109.2,700 L127.2,885" stroke="#9c3a44" stroke-width="4.3" opacity="0.63"/>
<path d="M239.1,700 L257.1,885" stroke="#9c3a44" stroke-width="2.9" opacity="0.75"/>
<path d="M164.2,700 L182.2,885" stroke="#5a1620" stroke-width="4.7" opacity="0.49"/>
<path d="M151.6,700 L169.6,885" stroke="#4e121c" stroke-width="4.3" opacity="0.50"/>
<path d="M176.5,700 L194.5,885" stroke="#5a1620" stroke-width="4.3" opacity="0.84"/>
<path d="M249.9,700 L267.9,885" stroke="#4e121c" stroke-width="2.2" opacity="0.45"/>
<path d="M247.0,700 L265.0,885" stroke="#9c3a44" stroke-width="3.7" opacity="0.42"/>
<path d="M121.3,700 L139.3,885" stroke="#9c3a44" stroke-width="3.2" opacity="0.43"/>
<path d="M56.1,700 L74.1,885" stroke="#6a1c28" stroke-width="4.7" opacity="0.40"/>
<path d="M106.3,700 L124.3,885" stroke="#a8444e" stroke-width="2.8" opacity="0.79"/>
<path d="M177.2,700 L195.2,885" stroke="#5a1620" stroke-width="4.0" opacity="0.65"/>
<path d="M80.3,700 L98.3,885" stroke="#9c3a44" stroke-width="2.8" opacity="0.55"/>
<path d="M150.2,700 L168.2,885" stroke="#4e121c" stroke-width="5.8" opacity="0.59"/>
<path d="M208.2,700 L226.2,885" stroke="#6a1c28" stroke-width="4.4" opacity="0.61"/>
<path d="M44.2,700 L62.2,885" stroke="#a8444e" stroke-width="3.2" opacity="0.83"/>
<path d="M247.0,700 L265.0,885" stroke="#6a1c28" stroke-width="4.2" opacity="0.77"/>
<path d="M170.4,700 L188.4,885" stroke="#6a1c28" stroke-width="3.2" opacity="0.65"/>
<path d="M158.8,700 L176.8,885" stroke="#7a2430" stroke-width="2.1" opacity="0.79"/>
<path d="M146.1,700 L164.1,885" stroke="#4e121c" stroke-width="3.4" opacity="0.62"/>
<path d="M124.9,700 L142.9,885" stroke="#a8444e" stroke-width="4.7" opacity="0.83"/>
<path d="M233.4,700 L251.4,885" stroke="#6a1c28" stroke-width="4.2" opacity="0.73"/>
<path d="M80.2,700 L98.2,885" stroke="#5a1620" stroke-width="2.6" opacity="0.54"/>
<path d="M251.1,700 L269.1,885" stroke="#6a1c28" stroke-width="3.7" opacity="0.46"/>
<path d="M10.9,700 L28.9,885" stroke="#a8444e" stroke-width="4.5" opacity="0.51"/>
<path d="M15.0,700 L33.0,885" stroke="#a8444e" stroke-width="2.1" opacity="0.41"/>
<path d="M138.1,700 L156.1,885" stroke="#a8444e" stroke-width="2.7" opacity="0.75"/>
<path d="M66.4,700 L84.4,885" stroke="#4e121c" stroke-width="2.7" opacity="0.72"/>
<path d="M76.4,700 L94.4,885" stroke="#a8444e" stroke-width="3.7" opacity="0.63"/>
<path d="M220.9,700 L238.9,885" stroke="#5a1620" stroke-width="5.5" opacity="0.41"/>
</g>
<line x1="175" y1="785.4" x2="108.7" y2="792" stroke="#2a3010" stroke-width="2" opacity="0.5"/>
<line x1="175" y1="785.4" x2="108.7" y2="792" stroke="#cfdc6a" stroke-width="0.9"/>
<line x1="175" y1="785.4" x2="125" y2="745" stroke="#2a3010" stroke-width="2" opacity="0.5"/>
<line x1="175" y1="785.4" x2="125" y2="745" stroke="#cfdc6a" stroke-width="0.9"/>
<line x1="175" y1="785.4" x2="163.8" y2="731.4" stroke="#2a3010" stroke-width="2" opacity="0.5"/>
<line x1="175" y1="785.4" x2="163.8" y2="731.4" stroke="#cfdc6a" stroke-width="0.9"/>
<line x1="175" y1="785.4" x2="203" y2="727" stroke="#2a3010" stroke-width="2" opacity="0.5"/>
<line x1="175" y1="785.4" x2="203" y2="727" stroke="#cfdc6a" stroke-width="0.9"/>
<line x1="175" y1="785.4" x2="220" y2="770" stroke="#2a3010" stroke-width="2" opacity="0.5"/>
<line x1="175" y1="785.4" x2="220" y2="770" stroke="#cfdc6a" stroke-width="0.9"/>
<line x1="175" y1="785.4" x2="220" y2="792" stroke="#2a3010" stroke-width="2" opacity="0.5"/>
<line x1="175" y1="785.4" x2="220" y2="792" stroke="#cfdc6a" stroke-width="0.9"/>
<line x1="175" y1="785.4" x2="220" y2="843.7" stroke="#2a3010" stroke-width="2" opacity="0.5"/>
<line x1="175" y1="785.4" x2="220" y2="843.7" stroke="#cfdc6a" stroke-width="0.9"/>
<line x1="175" y1="785.4" x2="180" y2="850" stroke="#2a3010" stroke-width="2" opacity="0.5"/>
<line x1="175" y1="785.4" x2="180" y2="850" stroke="#cfdc6a" stroke-width="0.9"/>
<line x1="175" y1="785.4" x2="125.6" y2="857" stroke="#2a3010" stroke-width="2" opacity="0.5"/>
<line x1="175" y1="785.4" x2="125.6" y2="857" stroke="#cfdc6a" stroke-width="0.9"/>
<line x1="175" y1="785.4" x2="112" y2="820" stroke="#2a3010" stroke-width="2" opacity="0.5"/>
<line x1="175" y1="785.4" x2="112" y2="820" stroke="#cfdc6a" stroke-width="0.9"/>
<path d="M164.0,776.5 Q169.5,776.4 172.5,773.5 M172.5,773.5 Q176.3,774.9 181.2,772.6 M181.2,772.6 Q182.4,778.8 184.9,782.0 M184.9,782.0 Q183.2,784.6 184.9,786.9 M184.9,786.9 Q184.0,790.7 184.9,798.2 M184.9,798.2 Q179.4,796.8 176.1,799.6 M176.1,799.6 Q171.5,798.3 164.1,801.2 M164.1,801.2 Q164.6,794.8 161.1,793.0 M161.1,793.0 Q163.4,789.0 160.4,786.9 M160.4,786.9 Q164.0,782.1 164.0,776.5 " fill="none" stroke="#cfdc6a" stroke-width="0.9" stroke-dasharray="2 1"/>
<path d="M158.0,771.7 Q166.5,771.5 171.2,767.0 M171.2,767.0 Q177.0,769.2 184.5,765.5 M184.5,765.5 Q186.4,775.2 190.3,780.2 M190.3,780.2 Q187.6,784.2 190.3,787.6 M190.3,787.6 Q189.0,793.6 190.3,805.2 M190.3,805.2 Q181.8,803.0 176.7,807.4 M176.7,807.4 Q169.6,805.3 158.2,809.7 M158.2,809.7 Q159.0,799.9 153.6,797.2 M153.6,797.2 Q157.0,791.0 152.5,787.6 M152.5,787.6 Q157.9,780.3 158.0,771.7 " fill="none" stroke="#cfdc6a" stroke-width="0.9" stroke-dasharray="2 1"/>
<path d="M152.0,766.8 Q163.6,766.6 169.8,760.6 M169.8,760.6 Q177.7,763.5 187.9,758.5 M187.9,758.5 Q190.4,771.7 195.7,778.3 M195.7,778.3 Q192.0,783.8 195.7,788.4 M195.7,788.4 Q193.9,796.5 195.7,812.2 M195.7,812.2 Q184.1,809.2 177.3,815.1 M177.3,815.1 Q167.7,812.4 152.3,818.3 M152.3,818.3 Q153.3,805.0 146.0,801.3 M146.0,801.3 Q150.7,792.9 144.5,788.4 M144.5,788.4 Q151.9,778.5 152.0,766.8 " fill="none" stroke="#cfdc6a" stroke-width="0.9" stroke-dasharray="2 1"/>
<path d="M146.0,762.0 Q160.6,761.7 168.5,754.1 M168.5,754.1 Q178.4,757.8 191.2,751.5 M191.2,751.5 Q194.5,768.1 201.1,776.5 M201.1,776.5 Q196.5,783.4 201.1,789.2 M201.1,789.2 Q198.9,799.4 201.1,819.2 M201.1,819.2 Q186.5,815.4 177.9,822.9 M177.9,822.9 Q165.8,819.4 146.3,826.9 M146.3,826.9 Q147.6,810.1 138.5,805.5 M138.5,805.5 Q144.3,794.9 136.5,789.2 M136.5,789.2 Q145.9,776.7 146.0,762.0 " fill="none" stroke="#cfdc6a" stroke-width="0.9" stroke-dasharray="2 1"/>
<path d="M140.0,757.1 Q157.6,756.9 167.2,747.6 M167.2,747.6 Q179.1,752.1 194.6,744.5 M194.6,744.5 Q198.5,764.5 206.5,774.6 M206.5,774.6 Q200.9,783.0 206.5,790.0 M206.5,790.0 Q203.8,802.2 206.5,826.2 M206.5,826.2 Q188.9,821.6 178.5,830.6 M178.5,830.6 Q163.9,826.4 140.4,835.5 M140.4,835.5 Q142.0,815.2 130.9,809.6 M130.9,809.6 Q138.0,796.9 128.6,790.0 M128.6,790.0 Q139.9,774.9 140.0,757.1 " fill="none" stroke="#cfdc6a" stroke-width="0.9" stroke-dasharray="2 1"/>
<path d="M134.0,752.3 Q154.6,752.0 165.8,741.1 M165.8,741.1 Q179.8,746.4 198.0,737.5 M198.0,737.5 Q202.5,760.9 211.9,772.8 M211.9,772.8 Q205.4,782.6 211.9,790.8 M211.9,790.8 Q208.7,805.1 211.9,833.2 M211.9,833.2 Q191.3,827.8 179.1,838.4 M179.1,838.4 Q162.0,833.5 134.5,844.1 M134.5,844.1 Q136.3,820.3 123.3,813.8 M123.3,813.8 Q131.6,798.9 120.6,790.8 M120.6,790.8 Q133.9,773.1 134.0,752.3 " fill="none" stroke="#cfdc6a" stroke-width="0.9" stroke-dasharray="2 1"/>
<path d="M128.0,747.4 Q151.6,747.1 164.5,734.6 M164.5,734.6 Q180.5,740.6 201.3,730.5 M201.3,730.5 Q206.6,757.3 217.3,770.9 M217.3,770.9 Q209.8,782.2 217.3,791.6 M217.3,791.6 Q213.7,808.0 217.3,840.2 M217.3,840.2 Q193.7,834.0 179.7,846.1 M179.7,846.1 Q160.1,840.5 128.6,852.7 M128.6,852.7 Q130.7,825.4 115.8,817.9 M115.8,817.9 Q125.3,800.8 112.7,791.6 M112.7,791.6 Q127.8,771.3 128.0,747.4 " fill="none" stroke="#cfdc6a" stroke-width="0.9" stroke-dasharray="2 1"/>
<path d="M175,785.4 Q155,790 140,818" fill="none" stroke="#1a2a08" stroke-width="3.2"/>
<path d="M175,785.4 Q155,790 140,818" fill="none" stroke="#cfdc6a" stroke-width="0.8" stroke-dasharray="2 2"/>
<path d="M175,785.4 Q160,815 150,845" fill="none" stroke="#1a2a08" stroke-width="3.2"/>
<path d="M175,785.4 Q160,815 150,845" fill="none" stroke="#cfdc6a" stroke-width="0.8" stroke-dasharray="2 2"/>
<path d="M175,785.4 Q192,812 200,845" fill="none" stroke="#1a2a08" stroke-width="3.2"/>
<path d="M175,785.4 Q192,812 200,845" fill="none" stroke="#cfdc6a" stroke-width="0.8" stroke-dasharray="2 2"/>
<path d="M175,785.4 Q205,800 215,840" fill="none" stroke="#1a2a08" stroke-width="3.2"/>
<path d="M175,785.4 Q205,800 215,840" fill="none" stroke="#cfdc6a" stroke-width="0.8" stroke-dasharray="2 2"/>
<path d="M175,785.4 Q160,772 150,760" fill="none" stroke="#1a2a08" stroke-width="3.2"/>
<path d="M175,785.4 Q160,772 150,760" fill="none" stroke="#cfdc6a" stroke-width="0.8" stroke-dasharray="2 2"/>
<path d="M175,785.4 Q190,770 200,755" fill="none" stroke="#1a2a08" stroke-width="3.2"/>
<path d="M175,785.4 Q190,770 200,755" fill="none" stroke="#cfdc6a" stroke-width="0.8" stroke-dasharray="2 2"/>
<ellipse cx="175" cy="778.4" rx="9" ry="8" fill="#142008" stroke="#cfdc6a" stroke-width="1"/>
<ellipse cx="175" cy="793.4" rx="8" ry="9" fill="#142008" stroke="#cfdc6a" stroke-width="1"/>
<line x1="168" y1="775.4" x2="182" y2="775.4" stroke="#cfdc6a" stroke-width="0.6"/>
<line x1="168" y1="780.4" x2="182" y2="780.4" stroke="#cfdc6a" stroke-width="0.6"/>
<line x1="168" y1="785.4" x2="182" y2="785.4" stroke="#cfdc6a" stroke-width="0.6"/>
<line x1="168" y1="790.4" x2="182" y2="790.4" stroke="#cfdc6a" stroke-width="0.6"/>
<line x1="168" y1="795.4" x2="182" y2="795.4" stroke="#cfdc6a" stroke-width="0.6"/>
<line x1="168" y1="800.4" x2="182" y2="800.4" stroke="#cfdc6a" stroke-width="0.6"/>
<path d="M76.3,780.3 L70.8,770.8 L76.3,761.3 L87.3,761.3 L92.8,770.8 L87.3,780.3 L76.3,780.3" fill="none" stroke="#3aa2d6" stroke-width="3" stroke-linejoin="round" stroke-linecap="round" />
<path d="M96.3,811.2 L91.3,819.9 L81.3,819.9 L76.3,811.2 L81.3,802.5 L91.3,802.5 L96.3,811.2" fill="none" stroke="#3aa2d6" stroke-width="3" stroke-linejoin="round" stroke-linecap="round" />
<path d="M83.0,782.0 L85.0,801.0" fill="none" stroke="#3aa2d6" stroke-width="3" stroke-linejoin="round" stroke-linecap="round" />
<path d="M70.0,764.0 L59.3,759.5" fill="none" stroke="#3aa2d6" stroke-width="2.6" stroke-linejoin="round" stroke-linecap="round" />
<path d="M59.3,759.5 L58.0,751.7" fill="none" stroke="#3aa2d6" stroke-width="2.2" stroke-linejoin="round" stroke-linecap="round" />
<path d="M59.3,759.5 L48.0,767.4" fill="none" stroke="#d07050" stroke-width="2.2" stroke-linejoin="round" stroke-linecap="round" />
<path d="M92.5,763.0 L100.8,756.0" fill="none" stroke="#3aa2d6" stroke-width="2.6" stroke-linejoin="round" stroke-linecap="round" />
<path d="M100.8,756.0 L98.6,745.0" fill="none" stroke="#e0a060" stroke-width="2.2" stroke-linejoin="round" stroke-linecap="round" />
<path d="M100.8,756.0 L112.0,754.0" fill="none" stroke="#3aa2d6" stroke-width="2.6" stroke-linejoin="round" stroke-linecap="round" />
<path d="M112.0,754.0 L122.0,745.0 L131.0,751.7 L128.0,760.6 L116.6,763.0 L112.0,754.0" fill="none" stroke="#3aa2d6" stroke-width="3" stroke-linejoin="round" stroke-linecap="round" />
<path d="M131.0,751.7 L141.0,742.7 L152.5,734.8" fill="none" stroke="#5a70c8" stroke-width="2.8" stroke-linejoin="round" stroke-linecap="round" />
<circle cx="58" cy="751.7" r="2.4" fill="#60c8e8"/>
<circle cx="56" cy="751" r="2" fill="#e07050"/>
<circle cx="48" cy="767.4" r="2.4" fill="#e07050"/>
<circle cx="98.6" cy="744" r="2.2" fill="#f0b090"/>
<circle cx="100.8" cy="756" r="2.4" fill="#e8a030"/>
<circle cx="114.3" cy="741.6" r="2.6" fill="#e8c030"/>
<circle cx="152.5" cy="734" r="3.2" fill="#e8e0f8"/>
<circle cx="153.5" cy="744" r="1.8" fill="#c0c0f0"/>
<circle cx="76.3" cy="780.3" r="1.6" fill="#70c8f0"/>
<circle cx="70.8" cy="770.8" r="1.6" fill="#70c8f0"/>
<circle cx="76.3" cy="761.3" r="1.6" fill="#70c8f0"/>
<circle cx="87.3" cy="761.3" r="1.6" fill="#70c8f0"/>
<circle cx="92.8" cy="770.8" r="1.6" fill="#70c8f0"/>
<circle cx="87.3" cy="780.3" r="1.6" fill="#70c8f0"/>
<circle cx="96.3" cy="811.2" r="1.6" fill="#70c8f0"/>
<circle cx="91.3" cy="819.9" r="1.6" fill="#70c8f0"/>
<circle cx="81.3" cy="819.9" r="1.6" fill="#70c8f0"/>
<circle cx="76.3" cy="811.2" r="1.6" fill="#70c8f0"/>
<circle cx="81.3" cy="802.5" r="1.6" fill="#70c8f0"/>
<circle cx="91.3" cy="802.5" r="1.6" fill="#70c8f0"/>
<circle cx="112.0" cy="754.0" r="1.6" fill="#70c8f0"/>
<circle cx="122.0" cy="745.0" r="1.6" fill="#70c8f0"/>
<circle cx="131.0" cy="751.7" r="1.6" fill="#70c8f0"/>
<circle cx="128.0" cy="760.6" r="1.6" fill="#70c8f0"/>
<circle cx="116.6" cy="763.0" r="1.6" fill="#70c8f0"/>
<path d="M22.7,908.5 L35.4,908.5 L29,916 Z" fill="#1f4a7c"/>
<path d="M22.7,908 C23,902 35,902 35.4,908 Z" fill="#f2b830"/>
<path d="M24,906 L34,906" stroke="#fff" stroke-width="0.5"/>
<text x="37.4" y="910.8" font-family="'Liberation Sans', sans-serif" font-size="8" fill="#2a5a98" textLength="60" lengthAdjust="spacingAndGlyphs"><tspan font-weight="bold" fill="#1f4a7c">ACS</tspan>Publications</text>
<text x="37.8" y="914.8" font-family="'Liberation Sans', sans-serif" font-size="3.2" fill="#1f4a7c" text-anchor="start" font-weight="normal" textLength="49" lengthAdjust="spacingAndGlyphs">Most Trusted. Most Cited. Most Read.</text>
<text x="248.8" y="910.5" font-family="'Liberation Sans', sans-serif" font-size="4.8" fill="#1a3a6a" text-anchor="end" font-weight="bold" >www.acs.org</text>
<rect x="292.3" y="566.3" width="337.6" height="106.5" fill="#ee792c"/>
<rect x="292.3" y="672.8" width="337.6" height="8.8" fill="#5ea84e"/>
<text transform="translate(319.5,618.2) scale(0.93,1)" font-family="'Liberation Serif', serif" fill="#8b4f9c" textLength="312.9" lengthAdjust="spacing"><tspan font-size="44">B</tspan><tspan font-size="32.5">IOTECHNOLOGY</tspan></text>
<text transform="translate(319.5,659.5) scale(0.93,1)" font-family="'Liberation Serif', serif" fill="#8b4f9c" textLength="310.8" lengthAdjust="spacing"><tspan font-size="44">B</tspan><tspan font-size="32.5">IOENGINEERING</tspan></text>
<text x="352" y="629" font-family="'Liberation Serif', serif" font-size="17" fill="#5aa84e" text-anchor="start" font-weight="normal" font-style="italic" textLength="58" lengthAdjust="spacingAndGlyphs">and</text>
<text x="454" y="630" font-family="'Liberation Sans', sans-serif" font-size="5" fill="#3f8a3a" text-anchor="start" font-weight="bold" textLength="154" lengthAdjust="spacingAndGlyphs">VOLUME 115 • NUMBER 9 • MONTH 2019</text>
<rect x="396.7" y="712.1" width="277" height="104.5" fill="#8fc521"/>
<text x="425.4" y="742.4" font-family="'Liberation Serif', serif" font-size="33" fill="#0f1f0a" text-anchor="start" font-weight="bold" font-style="italic" textLength="106" lengthAdjust="spacingAndGlyphs">Applied</text>
<text x="484.5" y="774.2" font-family="'Liberation Serif', serif" font-size="33" fill="#0f1f0a" text-anchor="start" font-weight="bold" font-style="italic" textLength="178.5" lengthAdjust="spacingAndGlyphs">Microbiology</text>
<text x="430" y="773.5" font-family="'Liberation Serif', serif" font-size="9" fill="#0f1f0a" text-anchor="start" font-weight="bold" font-style="italic">and</text>
<text x="425.4" y="804.5" font-family="'Liberation Serif', serif" font-size="33" fill="#0f1f0a" text-anchor="start" font-weight="bold" font-style="italic" textLength="187.7" lengthAdjust="spacingAndGlyphs">Biotechnology</text>
<text transform="translate(317,883.9) scale(0.68,1)" font-family="'Liberation Sans', sans-serif" font-size="35.5" font-weight="bold" fill="#1c4d8e" letter-spacing="4.2">molecular</text>
<rect x="312" y="884" width="247.9" height="37.2" fill="#1c4d8e"/>
<text transform="translate(336,912.8) scale(0.68,1)" font-family="'Liberation Sans', sans-serif" font-size="36" font-weight="bold" fill="#ffffff" letter-spacing="4.75">pharmaceutics</text>
<line x1="564" y1="889.4" x2="714.5" y2="889.4" stroke="#1c4d8e" stroke-width="1.1"/>
<text x="886.7" y="564" font-family="'Liberation Sans', sans-serif" font-size="4.2" fill="#666" text-anchor="start" font-weight="normal" textLength="110.8" lengthAdjust="spacingAndGlyphs">Volume 17 | Number 17 | 7 May 2019 | Pages 4146–4372</text>
<text x="727.8" y="588.4" font-family="'Liberation Sans', sans-serif" font-size="24.4" fill="#2b3b42" text-anchor="start" font-weight="normal" textLength="100.8" lengthAdjust="spacingAndGlyphs" stroke="#2b3b42" stroke-width="0.7">Organic &amp;</text>
<text x="727.8" y="609.2" font-family="'Liberation Sans', sans-serif" font-size="24.4" fill="#2b3b42" text-anchor="start" font-weight="normal" textLength="135.2" lengthAdjust="spacingAndGlyphs" stroke="#2b3b42" stroke-width="0.7">Biomolecular</text>
<text x="727.8" y="630.3" font-family="'Liberation Sans', sans-serif" font-size="24.4" fill="#2b3b42" text-anchor="start" font-weight="normal" textLength="105.5" lengthAdjust="spacingAndGlyphs" stroke="#2b3b42" stroke-width="0.7">Chemistry</text>
<text x="728.5" y="651.5" font-family="'Liberation Sans', sans-serif" font-size="4.2" fill="#555" text-anchor="start" font-weight="normal" >rsc.li/obc</text>
<path d="M993,592 C1000,587 1006,585 1009.5,584 L1009.5,654.5 L988,654.5 C990,635 994,612 993,592 Z" fill="#c2dbe9"/>
<path d="M998,622 C1003,618 1007,617 1009.5,616 L1009.5,654.5 L993,654.5 C994,642 996,630 998,622 Z" fill="#54b6e2"/>
<path d="M954.3,643.1 C958,622 966,603 976.9,588 L1001.3,607.9 C993,619 988,632 986.8,645.8 Z" fill="#3b92cb"/>
<path d="M965,602 C970,596 973,592 976.9,588 L1001.3,607.9 C997,612 994,617 991,622 Z" fill="#2c88c4" opacity="0.7"/>
<path d="M968,632 L987.5,632.5 L986.8,645.8 L966,644 Z" fill="#1c84bf"/>
<defs><clipPath id="obcclip"><rect x="714.5" y="654.5" width="295" height="226.5"/></clipPath>
<linearGradient id="sky" x1="0" y1="0" x2="0.3" y2="1"><stop offset="0" stop-color="#2f6fb8"/><stop offset="0.5" stop-color="#5592d4"/><stop offset="1" stop-color="#9cc6ea"/></linearGradient>
<linearGradient id="river" x1="0" y1="0" x2="0.2" y2="1"><stop offset="0" stop-color="#5a9ab8"/><stop offset="0.5" stop-color="#3a7898"/><stop offset="1" stop-color="#20506e"/></linearGradient>
<linearGradient id="fall" x1="0" y1="0" x2="1" y2="0"><stop offset="0" stop-color="#eef2f4"/><stop offset="0.5" stop-color="#f6f8f8"/><stop offset="1" stop-color="#d8e0e4"/></linearGradient>
<linearGradient id="hill" x1="0" y1="0" x2="0" y2="1"><stop offset="0" stop-color="#4a7a30"/><stop offset="0.5" stop-color="#3a6024"/><stop offset="1" stop-color="#26361a"/></linearGradient></defs>
<defs><filter id="soft3" x="-2%" y="-2%" width="104%" height="104%"><feGaussianBlur stdDeviation="0.6"/></filter></defs>
<g clip-path="url(#obcclip)"><g filter="url(#soft3)">
<rect x="714.5" y="654.5" width="295" height="226.5" fill="url(#sky)"/>
<path d="M714.5,705 L739.8,700.6 L769.6,705 L799.4,711 L827.7,723 L800,745 L778.5,762 L714.5,770 Z" fill="url(#hill)"/>
<path d="M714.5,735 L735,738 L748,752 L745,768 L714.5,770 Z" fill="#1c2c14" opacity="0.85"/>
<path d="M760,712 L780,716 L790,730 L770,735 Z" fill="#7a6a3a" opacity="0.35"/>
<circle cx="717.3" cy="711.7" r="2.3" fill="#5a8a38" opacity="0.7"/>
<circle cx="730.6" cy="711.7" r="2.0" fill="#2a4a1a" opacity="0.7"/>
<circle cx="731.5" cy="749.4" r="2.8" fill="#2a4a1a" opacity="0.7"/>
<circle cx="740.3" cy="748.9" r="2.6" fill="#2a4a1a" opacity="0.7"/>
<circle cx="718.1" cy="761.4" r="2.3" fill="#2a4a1a" opacity="0.7"/>
<circle cx="737.6" cy="728.5" r="2.7" fill="#2a4a1a" opacity="0.7"/>
<circle cx="738.1" cy="718.0" r="2.7" fill="#5a8a38" opacity="0.7"/>
<circle cx="816.1" cy="755.3" r="2.2" fill="#2a4a1a" opacity="0.7"/>
<circle cx="731.5" cy="752.8" r="2.3" fill="#5a8a38" opacity="0.7"/>
<circle cx="793.2" cy="757.1" r="2.8" fill="#2a4a1a" opacity="0.7"/>
<circle cx="737.8" cy="730.9" r="2.2" fill="#6a7a40" opacity="0.7"/>
<circle cx="783.3" cy="718.2" r="1.6" fill="#6a7a40" opacity="0.7"/>
<circle cx="746.8" cy="739.3" r="2.5" fill="#6a7a40" opacity="0.7"/>
<circle cx="816.9" cy="763.6" r="3.5" fill="#6a7a40" opacity="0.7"/>
<circle cx="810.1" cy="738.6" r="3.4" fill="#6a7a40" opacity="0.7"/>
<circle cx="725.8" cy="716.6" r="3.3" fill="#6a7a40" opacity="0.7"/>
<circle cx="757.9" cy="759.6" r="2.8" fill="#2a4a1a" opacity="0.7"/>
<circle cx="728.0" cy="717.2" r="2.2" fill="#3a5a24" opacity="0.7"/>
<circle cx="798.8" cy="738.7" r="1.7" fill="#5a8a38" opacity="0.7"/>
<circle cx="807.7" cy="743.2" r="3.4" fill="#2a4a1a" opacity="0.7"/>
<circle cx="751.2" cy="747.8" r="3.2" fill="#3a5a24" opacity="0.7"/>
<circle cx="722.1" cy="741.7" r="2.5" fill="#6a7a40" opacity="0.7"/>
<circle cx="819.1" cy="734.4" r="2.7" fill="#5a8a38" opacity="0.7"/>
<circle cx="767.0" cy="752.8" r="2.7" fill="#3a5a24" opacity="0.7"/>
<circle cx="818.2" cy="751.1" r="2.0" fill="#3a5a24" opacity="0.7"/>
<circle cx="755.4" cy="722.0" r="1.9" fill="#5a8a38" opacity="0.7"/>
<circle cx="729.9" cy="739.0" r="2.7" fill="#2a4a1a" opacity="0.7"/>
<circle cx="798.8" cy="761.8" r="3.2" fill="#2a4a1a" opacity="0.7"/>
<circle cx="774.2" cy="738.5" r="2.5" fill="#3a5a24" opacity="0.7"/>
<circle cx="739.8" cy="716.7" r="2.7" fill="#6a7a40" opacity="0.7"/>
<circle cx="791.3" cy="733.0" r="1.8" fill="#5a8a38" opacity="0.7"/>
<circle cx="770.9" cy="725.8" r="1.9" fill="#6a7a40" opacity="0.7"/>
<circle cx="788.5" cy="739.8" r="1.8" fill="#5a8a38" opacity="0.7"/>
<circle cx="792.9" cy="717.5" r="2.0" fill="#6a7a40" opacity="0.7"/>
<circle cx="737.5" cy="758.4" r="2.1" fill="#2a4a1a" opacity="0.7"/>
<circle cx="812.5" cy="721.2" r="3.4" fill="#5a8a38" opacity="0.7"/>
<circle cx="719.5" cy="741.9" r="3.3" fill="#6a7a40" opacity="0.7"/>
<path d="M745,750 L790,740 L800,760 L760,768 Z" fill="#6a6a3a" opacity="0.6"/>
<rect x="978" y="700" width="31.5" height="52" fill="#1c201c"/>
<rect x="996" y="712" width="3" height="40" fill="#4a5a4a"/>
<path d="M778.5,762 L785,748 L799.4,730.4 L829,723 L859,717 L903.6,706.6 L948.3,694.7 L969.2,684.3 L984,688.7 L981,748.3 L900,752 L830,758 Z" fill="url(#fall)"/>
<line x1="850" y1="707.5" x2="847" y2="752" stroke="#9aa8b0" stroke-width="1.2" opacity="0.25"/>
<line x1="875" y1="701.2" x2="872" y2="752" stroke="#9aa8b0" stroke-width="1.2" opacity="0.2"/>
<line x1="905" y1="693.8" x2="902" y2="752" stroke="#9aa8b0" stroke-width="1.2" opacity="0.3"/>
<line x1="930" y1="687.5" x2="927" y2="752" stroke="#9aa8b0" stroke-width="1.2" opacity="0.25"/>
<line x1="955" y1="681.2" x2="952" y2="752" stroke="#9aa8b0" stroke-width="1.2" opacity="0.3"/>
<line x1="972" y1="677.0" x2="969" y2="752" stroke="#9aa8b0" stroke-width="1.2" opacity="0.35"/>
<line x1="820" y1="715.0" x2="817" y2="752" stroke="#9aa8b0" stroke-width="1.2" opacity="0.2"/>
<path d="M714.5,770 L778.5,762 L830,758 L900,752 L1009.5,745 L1009.5,762 L915,768 L800,772 L714.5,778 Z" fill="#8a9498"/>
<path d="M880,754 L1009.5,745 L1009.5,765 L915,768 Z" fill="#7a6a3c"/>
<path d="M714.5,776 L800,770 L915,763 L912,799 L850,796 L800,797 L714.5,796 Z" fill="#dfe8ec"/>
<line x1="735" y1="772" x2="737" y2="796" stroke="#8aa0ac" stroke-width="2" opacity="0.35"/>
<line x1="760" y1="772" x2="762" y2="796" stroke="#8aa0ac" stroke-width="2" opacity="0.35"/>
<line x1="790" y1="772" x2="792" y2="796" stroke="#8aa0ac" stroke-width="2" opacity="0.35"/>
<line x1="815" y1="772" x2="817" y2="796" stroke="#8aa0ac" stroke-width="2" opacity="0.35"/>
<line x1="845" y1="772" x2="847" y2="796" stroke="#8aa0ac" stroke-width="2" opacity="0.35"/>
<line x1="870" y1="772" x2="872" y2="796" stroke="#8aa0ac" stroke-width="2" opacity="0.35"/>
<line x1="895" y1="772" x2="897" y2="796" stroke="#8aa0ac" stroke-width="2" opacity="0.35"/>
<path d="M714.5,794 L850,794 L912,799 L930,805 L936,829 L969,858 L978,881 L714.5,881 Z" fill="url(#river)"/>
<ellipse cx="822.3" cy="843.7" rx="8.5" ry="1.0" fill="#d8eaf2" opacity="0.43"/>
<ellipse cx="854.0" cy="814.4" rx="5.6" ry="1.2" fill="#d8eaf2" opacity="0.53"/>
<ellipse cx="738.1" cy="823.7" rx="2.6" ry="1.3" fill="#d8eaf2" opacity="0.49"/>
<ellipse cx="725.8" cy="876.6" rx="8.8" ry="1.2" fill="#d8eaf2" opacity="0.47"/>
<ellipse cx="753.0" cy="801.2" rx="5.7" ry="0.7" fill="#d8eaf2" opacity="0.32"/>
<ellipse cx="772.9" cy="802.3" rx="5.2" ry="1.0" fill="#d8eaf2" opacity="0.54"/>
<ellipse cx="838.0" cy="849.9" rx="5.5" ry="1.2" fill="#d8eaf2" opacity="0.41"/>
<ellipse cx="781.4" cy="877.8" rx="9.0" ry="1.4" fill="#d8eaf2" opacity="0.50"/>
<ellipse cx="790.1" cy="817.9" rx="4.0" ry="0.7" fill="#d8eaf2" opacity="0.52"/>
<ellipse cx="810.1" cy="866.0" rx="4.7" ry="1.5" fill="#d8eaf2" opacity="0.55"/>
<ellipse cx="716.1" cy="816.4" rx="8.4" ry="1.0" fill="#d8eaf2" opacity="0.59"/>
<ellipse cx="809.4" cy="805.7" rx="6.4" ry="1.3" fill="#d8eaf2" opacity="0.34"/>
<ellipse cx="736.5" cy="825.9" rx="8.7" ry="1.3" fill="#d8eaf2" opacity="0.29"/>
<ellipse cx="773.9" cy="807.9" rx="2.4" ry="1.3" fill="#d8eaf2" opacity="0.31"/>
<ellipse cx="847.4" cy="834.9" rx="3.3" ry="1.3" fill="#d8eaf2" opacity="0.30"/>
<ellipse cx="867.3" cy="809.1" rx="4.9" ry="0.8" fill="#d8eaf2" opacity="0.34"/>
<ellipse cx="944.2" cy="862.7" rx="4.1" ry="1.4" fill="#d8eaf2" opacity="0.32"/>
<ellipse cx="808.7" cy="866.6" rx="6.5" ry="0.7" fill="#d8eaf2" opacity="0.60"/>
<ellipse cx="766.1" cy="820.1" rx="7.4" ry="0.9" fill="#d8eaf2" opacity="0.35"/>
<ellipse cx="733.2" cy="807.0" rx="6.1" ry="0.8" fill="#d8eaf2" opacity="0.46"/>
<ellipse cx="803.4" cy="835.4" rx="8.7" ry="1.0" fill="#d8eaf2" opacity="0.45"/>
<ellipse cx="919.6" cy="814.3" rx="3.1" ry="1.4" fill="#d8eaf2" opacity="0.54"/>
<ellipse cx="774.6" cy="814.8" rx="7.2" ry="1.4" fill="#d8eaf2" opacity="0.32"/>
<ellipse cx="939.3" cy="868.8" rx="6.2" ry="1.0" fill="#d8eaf2" opacity="0.29"/>
<ellipse cx="725.1" cy="875.1" rx="3.7" ry="1.2" fill="#d8eaf2" opacity="0.34"/>
<ellipse cx="909.6" cy="846.5" rx="4.1" ry="0.8" fill="#d8eaf2" opacity="0.50"/>
<ellipse cx="732.2" cy="817.8" rx="5.9" ry="1.4" fill="#d8eaf2" opacity="0.47"/>
<ellipse cx="781.9" cy="871.6" rx="3.4" ry="0.6" fill="#d8eaf2" opacity="0.34"/>
<ellipse cx="820.7" cy="804.7" rx="3.2" ry="0.9" fill="#d8eaf2" opacity="0.45"/>
<ellipse cx="746.9" cy="828.2" rx="8.2" ry="1.5" fill="#d8eaf2" opacity="0.48"/>
<ellipse cx="878.4" cy="845.6" rx="3.0" ry="0.6" fill="#d8eaf2" opacity="0.26"/>
<ellipse cx="929.9" cy="854.7" rx="8.7" ry="0.6" fill="#d8eaf2" opacity="0.47"/>
<ellipse cx="829.3" cy="857.0" rx="4.2" ry="1.5" fill="#d8eaf2" opacity="0.28"/>
<ellipse cx="844.3" cy="857.5" rx="8.3" ry="1.3" fill="#d8eaf2" opacity="0.50"/>
<ellipse cx="902.4" cy="871.4" rx="4.5" ry="1.2" fill="#d8eaf2" opacity="0.57"/>
<ellipse cx="920.7" cy="832.5" rx="7.5" ry="1.4" fill="#d8eaf2" opacity="0.45"/>
<ellipse cx="862.9" cy="829.8" rx="6.1" ry="1.1" fill="#d8eaf2" opacity="0.28"/>
<ellipse cx="866.3" cy="877.5" rx="8.2" ry="1.3" fill="#d8eaf2" opacity="0.39"/>
<ellipse cx="888.7" cy="845.3" rx="5.1" ry="1.4" fill="#d8eaf2" opacity="0.28"/>
<ellipse cx="892.3" cy="802.3" rx="6.2" ry="1.0" fill="#d8eaf2" opacity="0.33"/>
<ellipse cx="880.1" cy="838.8" rx="6.3" ry="1.4" fill="#d8eaf2" opacity="0.34"/>
<ellipse cx="718.7" cy="823.5" rx="6.7" ry="0.8" fill="#d8eaf2" opacity="0.31"/>
<ellipse cx="928.8" cy="851.5" rx="5.1" ry="1.4" fill="#d8eaf2" opacity="0.36"/>
<ellipse cx="872.5" cy="815.5" rx="5.0" ry="1.3" fill="#d8eaf2" opacity="0.57"/>
<ellipse cx="922.9" cy="830.0" rx="6.1" ry="0.9" fill="#d8eaf2" opacity="0.30"/>
<ellipse cx="832.7" cy="865.3" rx="7.9" ry="1.2" fill="#d8eaf2" opacity="0.58"/>
<ellipse cx="781.0" cy="813.2" rx="5.2" ry="0.8" fill="#d8eaf2" opacity="0.32"/>
<ellipse cx="813.3" cy="848.8" rx="5.5" ry="0.9" fill="#d8eaf2" opacity="0.54"/>
<ellipse cx="946.8" cy="835.3" rx="2.5" ry="0.6" fill="#d8eaf2" opacity="0.56"/>
<ellipse cx="725.7" cy="855.3" rx="6.0" ry="0.9" fill="#d8eaf2" opacity="0.53"/>
<ellipse cx="720.5" cy="810.6" rx="5.2" ry="0.6" fill="#d8eaf2" opacity="0.54"/>
<ellipse cx="771.8" cy="811.0" rx="2.3" ry="1.2" fill="#d8eaf2" opacity="0.41"/>
<ellipse cx="864.0" cy="851.1" rx="7.7" ry="1.5" fill="#d8eaf2" opacity="0.49"/>
<ellipse cx="762.8" cy="837.1" rx="3.3" ry="0.6" fill="#d8eaf2" opacity="0.42"/>
<ellipse cx="883.8" cy="814.0" rx="3.9" ry="0.9" fill="#d8eaf2" opacity="0.49"/>
<ellipse cx="838.3" cy="847.9" rx="7.3" ry="1.0" fill="#d8eaf2" opacity="0.53"/>
<ellipse cx="929.0" cy="806.8" rx="8.5" ry="1.3" fill="#d8eaf2" opacity="0.30"/>
<ellipse cx="822.6" cy="848.8" rx="8.4" ry="0.9" fill="#d8eaf2" opacity="0.45"/>
<ellipse cx="922.6" cy="862.1" rx="8.6" ry="1.0" fill="#d8eaf2" opacity="0.48"/>
<ellipse cx="764.2" cy="856.3" rx="7.7" ry="1.2" fill="#d8eaf2" opacity="0.50"/>
<path d="M714.5,796 L780,800 L760,812 L714.5,815 Z" fill="#cfe0e8" opacity="0.6"/>
<path d="M915.5,763.2 L1009.5,745.3 L1009.5,881 L978,881 L969.2,858.5 L936.4,828.7 L929,816.8 L930.4,804.9 L912.6,799 Z" fill="#7e6a3a"/>
<path d="M960,800 L1009.5,790 L1009.5,881 L985,881 L975,850 Z" fill="#6a5a30" opacity="0.8"/>
<path d="M914,768 L940,764 L946,775 L934,810 L928,800 Z" fill="#e6eef2" opacity="0.85"/>
<path d="M975,782 L992,778 L994,795 L972,838 L964,842 L966,822 Z" fill="#dde8ee" opacity="0.85"/>
<path d="M940,772 L960,768 L958,790 L948,800 Z" fill="#5a4a28" opacity="0.6"/>
<path d="M781.5,856 Q786,845 796,846 Q804,852 802,866 Q792,872 781.5,868 Z" fill="#8a7234"/>
<path d="M966,654.5 L1009.5,654.5 L1009.5,720 C992,716 975,700 969,682 C967,673 966,664 966,654.5 Z" fill="#45aee0" opacity="0.92"/>
<path d="M978,654.5 L1009.5,654.5 L1009.5,708 C995,702 984,690 980,675 C978,668 978,660 978,654.5 Z" fill="#1f8fc4" opacity="0.9"/>
<path d="M996,654.5 L1009.5,654.5 L1009.5,690 C1002,685 998,672 996,654.5 Z" fill="#0f5a7a" opacity="0.9"/>
</g>
<line x1="748.7" y1="796.0" x2="756.2" y2="792.4" stroke="#151515" stroke-width="2.0"/>
<line x1="756.2" y1="792.4" x2="764.2" y2="796.0" stroke="#151515" stroke-width="2.0"/>
<line x1="764.2" y1="796.0" x2="771.1" y2="804.9" stroke="#151515" stroke-width="2.0"/>
<line x1="771.1" y1="804.9" x2="779.1" y2="812.3" stroke="#151515" stroke-width="2.0"/>
<line x1="779.1" y1="812.3" x2="788.0" y2="804.9" stroke="#151515" stroke-width="2.0"/>
<line x1="788.0" y1="804.9" x2="788.9" y2="796.0" stroke="#151515" stroke-width="2.0"/>
<line x1="788.9" y1="796.0" x2="783.0" y2="784.0" stroke="#151515" stroke-width="2.0"/>
<line x1="783.0" y1="784.0" x2="794.9" y2="785.5" stroke="#151515" stroke-width="2.0"/>
<line x1="794.9" y1="785.5" x2="811.3" y2="784.0" stroke="#151515" stroke-width="2.0"/>
<line x1="811.3" y1="784.0" x2="809.8" y2="804.9" stroke="#151515" stroke-width="2.0"/>
<line x1="809.8" y1="804.9" x2="800.9" y2="812.3" stroke="#151515" stroke-width="2.0"/>
<line x1="800.9" y1="812.3" x2="802.3" y2="822.8" stroke="#151515" stroke-width="2.0"/>
<line x1="802.3" y1="822.8" x2="786.0" y2="828.7" stroke="#151515" stroke-width="2.0"/>
<line x1="786.0" y1="828.7" x2="779.1" y2="812.3" stroke="#151515" stroke-width="2.0"/>
<line x1="771.1" y1="804.9" x2="759.2" y2="818.3" stroke="#151515" stroke-width="2.0"/>
<line x1="759.2" y1="818.3" x2="750.2" y2="812.3" stroke="#151515" stroke-width="2.0"/>
<line x1="750.2" y1="812.3" x2="748.7" y2="796.0" stroke="#151515" stroke-width="2.0"/>
<line x1="750.2" y1="812.3" x2="742.8" y2="820.4" stroke="#151515" stroke-width="2.0"/>
<line x1="742.8" y1="820.4" x2="742.8" y2="828.7" stroke="#151515" stroke-width="2.0"/>
<line x1="748.7" y1="796.0" x2="748.7" y2="785.5" stroke="#151515" stroke-width="2.0"/>
<line x1="764.2" y1="796.0" x2="765.1" y2="787.6" stroke="#151515" stroke-width="2.0"/>
<line x1="788.9" y1="796.0" x2="806.8" y2="793.6" stroke="#151515" stroke-width="2.0"/>
<line x1="806.8" y1="793.6" x2="809.8" y2="804.9" stroke="#151515" stroke-width="2.0"/>
<line x1="783.0" y1="784.0" x2="779.1" y2="778.7" stroke="#151515" stroke-width="2.0"/>
<line x1="783.0" y1="784.0" x2="789.8" y2="780.5" stroke="#151515" stroke-width="2.0"/>
<line x1="800.9" y1="812.3" x2="788.0" y2="804.9" stroke="#151515" stroke-width="2.0"/>
<line x1="759.2" y1="818.3" x2="756.2" y2="824.3" stroke="#151515" stroke-width="2.0"/>
<line x1="756.2" y1="824.3" x2="763.6" y2="828.7" stroke="#151515" stroke-width="2.0"/>
<circle cx="748.7" cy="796.0" r="1.8" fill="#e0e0e0" stroke="#333" stroke-width="0.4"/>
<circle cx="756.2" cy="792.4" r="1.8" fill="#e0e0e0" stroke="#333" stroke-width="0.4"/>
<circle cx="764.2" cy="796.0" r="1.8" fill="#e0e0e0" stroke="#333" stroke-width="0.4"/>
<circle cx="771.1" cy="804.9" r="1.8" fill="#e0e0e0" stroke="#333" stroke-width="0.4"/>
<circle cx="779.1" cy="812.3" r="1.8" fill="#e0e0e0" stroke="#333" stroke-width="0.4"/>
<circle cx="788.0" cy="804.9" r="1.8" fill="#e0e0e0" stroke="#333" stroke-width="0.4"/>
<circle cx="788.9" cy="796.0" r="1.8" fill="#e0e0e0" stroke="#333" stroke-width="0.4"/>
<circle cx="783.0" cy="784.0" r="1.8" fill="#e0e0e0" stroke="#333" stroke-width="0.4"/>
<circle cx="794.9" cy="785.5" r="3.2" fill="#d02020" stroke="#333" stroke-width="0.4"/>
<circle cx="811.3" cy="784.0" r="3.2" fill="#9a50c0" stroke="#333" stroke-width="0.4"/>
<circle cx="809.8" cy="804.9" r="3.2" fill="#d02020" stroke="#333" stroke-width="0.4"/>
<circle cx="800.9" cy="812.3" r="1.8" fill="#e0e0e0" stroke="#333" stroke-width="0.4"/>
<circle cx="802.3" cy="822.8" r="1.8" fill="#e0e0e0" stroke="#333" stroke-width="0.4"/>
<circle cx="786.0" cy="828.7" r="3.2" fill="#e8e020" stroke="#333" stroke-width="0.4"/>
<circle cx="759.2" cy="818.3" r="1.8" fill="#e0e0e0" stroke="#333" stroke-width="0.4"/>
<circle cx="750.2" cy="812.3" r="1.8" fill="#e0e0e0" stroke="#333" stroke-width="0.4"/>
<circle cx="742.8" cy="820.4" r="1.8" fill="#e0e0e0" stroke="#333" stroke-width="0.4"/>
<circle cx="742.8" cy="828.7" r="1.8" fill="#e0e0e0" stroke="#333" stroke-width="0.4"/>
<circle cx="748.7" cy="785.5" r="1.8" fill="#e0e0e0" stroke="#333" stroke-width="0.4"/>
<circle cx="765.1" cy="787.6" r="1.8" fill="#e0e0e0" stroke="#333" stroke-width="0.4"/>
<circle cx="806.8" cy="793.6" r="1.8" fill="#e0e0e0" stroke="#333" stroke-width="0.4"/>
<circle cx="779.1" cy="778.7" r="1.8" fill="#e0e0e0" stroke="#333" stroke-width="0.4"/>
<circle cx="789.8" cy="780.5" r="1.8" fill="#e0e0e0" stroke="#333" stroke-width="0.4"/>
<circle cx="756.2" cy="824.3" r="1.8" fill="#e0e0e0" stroke="#333" stroke-width="0.4"/>
<circle cx="763.6" cy="828.7" r="1.8" fill="#e0e0e0" stroke="#333" stroke-width="0.4"/>
<line x1="841.1" y1="737.9" x2="850.0" y2="733.4" stroke="#151515" stroke-width="1.5"/>
<line x1="850.0" y1="733.4" x2="857.5" y2="737.9" stroke="#151515" stroke-width="1.5"/>
<line x1="857.5" y1="737.9" x2="863.4" y2="730.4" stroke="#151515" stroke-width="1.5"/>
<line x1="863.4" y1="730.4" x2="856.0" y2="723.0" stroke="#151515" stroke-width="1.5"/>
<line x1="856.0" y1="723.0" x2="850.0" y2="726.0" stroke="#151515" stroke-width="1.5"/>
<line x1="850.0" y1="726.0" x2="850.0" y2="733.4" stroke="#151515" stroke-width="1.5"/>
<line x1="863.4" y1="730.4" x2="872.3" y2="736.4" stroke="#151515" stroke-width="1.5"/>
<line x1="872.3" y1="736.4" x2="870.9" y2="745.3" stroke="#151515" stroke-width="1.5"/>
<line x1="870.9" y1="745.3" x2="872.3" y2="755.7" stroke="#151515" stroke-width="1.5"/>
<line x1="872.3" y1="755.7" x2="882.8" y2="752.8" stroke="#151515" stroke-width="1.5"/>
<line x1="882.8" y1="752.8" x2="896.2" y2="745.3" stroke="#151515" stroke-width="1.5"/>
<line x1="896.2" y1="745.3" x2="902.1" y2="731.9" stroke="#151515" stroke-width="1.5"/>
<line x1="902.1" y1="731.9" x2="888.7" y2="726.0" stroke="#151515" stroke-width="1.5"/>
<line x1="888.7" y1="726.0" x2="881.3" y2="728.9" stroke="#151515" stroke-width="1.5"/>
<line x1="881.3" y1="728.9" x2="872.3" y2="736.4" stroke="#151515" stroke-width="1.5"/>
<line x1="881.3" y1="728.9" x2="876.8" y2="717.0" stroke="#151515" stroke-width="1.5"/>
<line x1="888.7" y1="726.0" x2="890.2" y2="718.5" stroke="#151515" stroke-width="1.5"/>
<line x1="856.0" y1="723.0" x2="864.9" y2="721.5" stroke="#151515" stroke-width="1.5"/>
<line x1="850.0" y1="726.0" x2="847.0" y2="720.0" stroke="#151515" stroke-width="1.5"/>
<line x1="857.5" y1="737.9" x2="857.5" y2="745.3" stroke="#151515" stroke-width="1.5"/>
<line x1="857.5" y1="745.3" x2="870.9" y2="745.3" stroke="#151515" stroke-width="1.5"/>
<circle cx="841.1" cy="737.9" r="1.3" fill="#e0e0e0" stroke="#333" stroke-width="0.4"/>
<circle cx="850.0" cy="733.4" r="1.3" fill="#e0e0e0" stroke="#333" stroke-width="0.4"/>
<circle cx="857.5" cy="737.9" r="1.3" fill="#e0e0e0" stroke="#333" stroke-width="0.4"/>
<circle cx="863.4" cy="730.4" r="1.3" fill="#e0e0e0" stroke="#333" stroke-width="0.4"/>
<circle cx="856.0" cy="723.0" r="1.3" fill="#e0e0e0" stroke="#333" stroke-width="0.4"/>
<circle cx="850.0" cy="726.0" r="1.3" fill="#e0e0e0" stroke="#333" stroke-width="0.4"/>
<circle cx="872.3" cy="736.4" r="1.3" fill="#e0e0e0" stroke="#333" stroke-width="0.4"/>
<circle cx="870.9" cy="745.3" r="1.3" fill="#e0e0e0" stroke="#333" stroke-width="0.4"/>
<circle cx="872.3" cy="755.7" r="2.4" fill="#e8e020" stroke="#333" stroke-width="0.4"/>
<circle cx="882.8" cy="752.8" r="1.3" fill="#e0e0e0" stroke="#333" stroke-width="0.4"/>
<circle cx="896.2" cy="745.3" r="2.4" fill="#d02020" stroke="#333" stroke-width="0.4"/>
<circle cx="902.1" cy="731.9" r="2.4" fill="#9a50c0" stroke="#333" stroke-width="0.4"/>
<circle cx="888.7" cy="726.0" r="2.4" fill="#d02020" stroke="#333" stroke-width="0.4"/>
<circle cx="881.3" cy="728.9" r="1.3" fill="#e0e0e0" stroke="#333" stroke-width="0.4"/>
<circle cx="876.8" cy="717.0" r="1.3" fill="#e0e0e0" stroke="#333" stroke-width="0.4"/>
<circle cx="890.2" cy="718.5" r="1.3" fill="#e0e0e0" stroke="#333" stroke-width="0.4"/>
<circle cx="864.9" cy="721.5" r="1.3" fill="#e0e0e0" stroke="#333" stroke-width="0.4"/>
<circle cx="847.0" cy="720.0" r="1.3" fill="#e0e0e0" stroke="#333" stroke-width="0.4"/>
<circle cx="857.5" cy="745.3" r="1.3" fill="#e0e0e0" stroke="#333" stroke-width="0.4"/>
<line x1="914.1" y1="676.8" x2="920.0" y2="672.3" stroke="#151515" stroke-width="1.2"/>
<line x1="920.0" y1="672.3" x2="926.0" y2="676.8" stroke="#151515" stroke-width="1.2"/>
<line x1="926.0" y1="676.8" x2="931.9" y2="672.3" stroke="#151515" stroke-width="1.2"/>
<line x1="931.9" y1="672.3" x2="937.9" y2="676.8" stroke="#151515" stroke-width="1.2"/>
<line x1="937.9" y1="676.8" x2="945.3" y2="673.8" stroke="#151515" stroke-width="1.2"/>
<line x1="945.3" y1="673.8" x2="951.3" y2="679.8" stroke="#151515" stroke-width="1.2"/>
<line x1="951.3" y1="679.8" x2="939.4" y2="681.3" stroke="#151515" stroke-width="1.2"/>
<line x1="939.4" y1="681.3" x2="931.9" y2="681.3" stroke="#151515" stroke-width="1.2"/>
<line x1="931.9" y1="681.3" x2="924.5" y2="682.8" stroke="#151515" stroke-width="1.2"/>
<line x1="924.5" y1="682.8" x2="914.1" y2="676.8" stroke="#151515" stroke-width="1.2"/>
<line x1="926.0" y1="676.8" x2="924.5" y2="682.8" stroke="#151515" stroke-width="1.2"/>
<line x1="937.9" y1="676.8" x2="931.9" y2="681.3" stroke="#151515" stroke-width="1.2"/>
<line x1="920.0" y1="672.3" x2="923.0" y2="666.4" stroke="#151515" stroke-width="1.2"/>
<line x1="931.9" y1="672.3" x2="936.4" y2="666.4" stroke="#151515" stroke-width="1.2"/>
<line x1="931.9" y1="681.3" x2="930.4" y2="691.7" stroke="#151515" stroke-width="1.2"/>
<line x1="930.4" y1="691.7" x2="926.0" y2="694.7" stroke="#151515" stroke-width="1.2"/>
<line x1="926.0" y1="694.7" x2="918.5" y2="691.7" stroke="#151515" stroke-width="1.2"/>
<circle cx="914.1" cy="676.8" r="1.0" fill="#e0e0e0" stroke="#333" stroke-width="0.4"/>
<circle cx="920.0" cy="672.3" r="1.0" fill="#e0e0e0" stroke="#333" stroke-width="0.4"/>
<circle cx="926.0" cy="676.8" r="1.0" fill="#e0e0e0" stroke="#333" stroke-width="0.4"/>
<circle cx="931.9" cy="672.3" r="1.0" fill="#e0e0e0" stroke="#333" stroke-width="0.4"/>
<circle cx="937.9" cy="676.8" r="1.0" fill="#e0e0e0" stroke="#333" stroke-width="0.4"/>
<circle cx="945.3" cy="673.8" r="1.0" fill="#e0e0e0" stroke="#333" stroke-width="0.4"/>
<circle cx="951.3" cy="679.8" r="2.0" fill="#9a50c0" stroke="#333" stroke-width="0.4"/>
<circle cx="939.4" cy="681.3" r="1.0" fill="#e0e0e0" stroke="#333" stroke-width="0.4"/>
<circle cx="931.9" cy="681.3" r="1.0" fill="#e0e0e0" stroke="#333" stroke-width="0.4"/>
<circle cx="924.5" cy="682.8" r="1.0" fill="#e0e0e0" stroke="#333" stroke-width="0.4"/>
<circle cx="923.0" cy="666.4" r="1.0" fill="#e0e0e0" stroke="#333" stroke-width="0.4"/>
<circle cx="936.4" cy="666.4" r="1.0" fill="#e0e0e0" stroke="#333" stroke-width="0.4"/>
<circle cx="930.4" cy="691.7" r="2.0" fill="#a0d040" stroke="#333" stroke-width="0.4"/>
<circle cx="918.5" cy="691.7" r="2.0" fill="#b050b0" stroke="#333" stroke-width="0.4"/>
<circle cx="926.0" cy="694.7" r="1.0" fill="#e0e0e0" stroke="#333" stroke-width="0.4"/>
</g>
<text x="828" y="887.5" font-family="'Liberation Sans', sans-serif" font-size="3.8" fill="#555" text-anchor="start" font-weight="normal" >ISSN 1477-0520</text>
<circle cx="742" cy="910" r="13" fill="none" stroke="#2a7a8a" stroke-width="5" stroke-dasharray="60 22" transform="rotate(40 742 910)"/>
<circle cx="742" cy="910" r="13" fill="none" stroke="#c8d020" stroke-width="5" stroke-dasharray="10 72" transform="rotate(200 742 910)"/>
<circle cx="742" cy="910" r="6" fill="none" stroke="#5aa0b0" stroke-width="3" stroke-dasharray="25 13" transform="rotate(30 742 910)"/>
<text x="756" y="908" font-family="'Liberation Sans', sans-serif" font-size="3.8" fill="#2a6a7a" text-anchor="start" font-weight="normal" >ROYAL SOCIETY</text>
<text x="756" y="914" font-family="'Liberation Sans', sans-serif" font-size="5" fill="#2a6a7a" text-anchor="start" font-weight="bold" >OF CHEMISTRY</text>
<line x1="793" y1="900" x2="793" y2="920" stroke="#bbb" stroke-width="0.5"/>
<text x="795" y="910" font-family="'Liberation Sans', sans-serif" font-size="4.5" fill="#2a6a7a" text-anchor="start" font-weight="normal" >Celebrating</text>
<text x="795" y="916" font-family="'Liberation Sans', sans-serif" font-size="5" fill="#2a6a7a" text-anchor="start" font-weight="normal" >IYPT 2019</text>
<line x1="828" y1="895" x2="828" y2="930" stroke="#ccc" stroke-width="0.6"/>
<line x1="943" y1="895" x2="943" y2="930" stroke="#ccc" stroke-width="0.6"/>
<rect x="1009.6" y="878.3" width="12" height="11" fill="#1c4d8e"/>
<text x="1008.5" y="901.5" font-family="'Liberation Sans', sans-serif" font-size="5.5" fill="#1c4d8e" text-anchor="start" font-weight="bold" >ics</text>
<line x1="700" y1="888.8" x2="714.4" y2="888.8" stroke="#1c4d8e" stroke-width="1.1"/>
<text x="818.3" y="926.2" font-family="'Liberation Sans', sans-serif" font-size="27" fill="#f07a2a" text-anchor="start" font-weight="bold" textLength="136" lengthAdjust="spacingAndGlyphs">cn-ferment</text>
<text x="955.8" y="926.2" font-family="'Liberation Sans', sans-serif" font-size="21" fill="#6a6a6a" text-anchor="start" font-weight="bold" textLength="53.8" lengthAdjust="spacingAndGlyphs">.COM</text>
</svg></body></html>
